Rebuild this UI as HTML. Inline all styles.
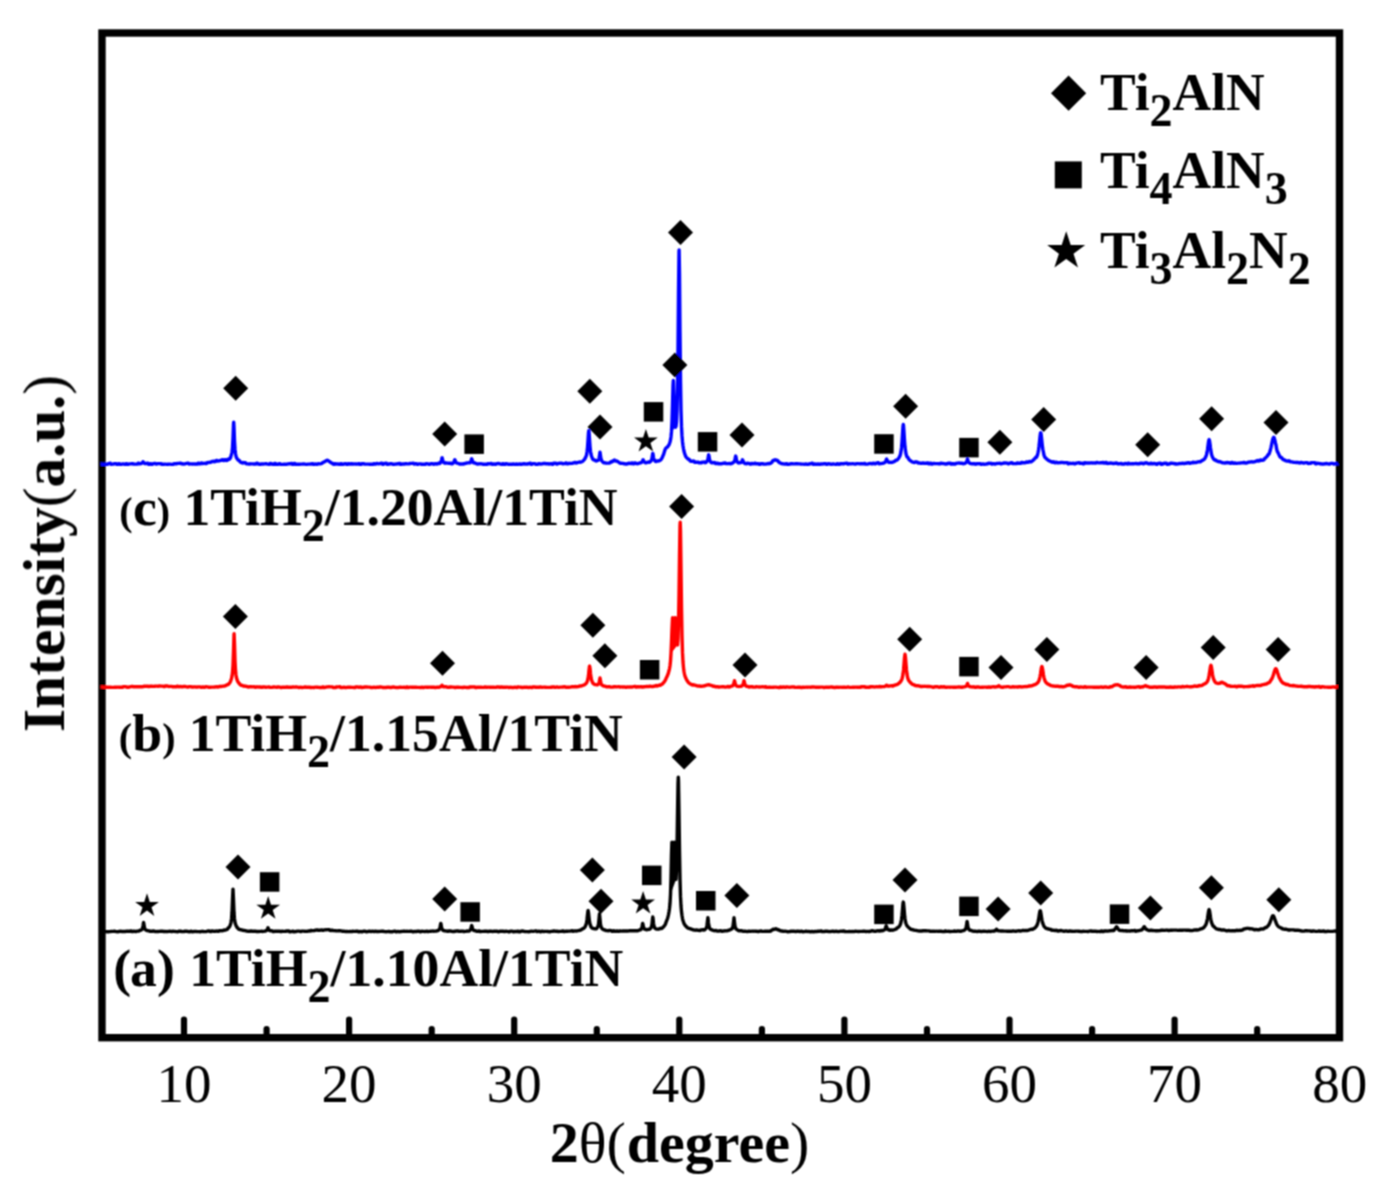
<!DOCTYPE html>
<html><head><meta charset="utf-8"><style>
html,body{margin:0;padding:0;background:#fff;}
svg{display:block;}
text{font-family:"Liberation Serif",serif;}
</style></head><body>
<svg width="1391" height="1200" viewBox="0 0 1391 1200">
<defs><filter id="bl" filterUnits="userSpaceOnUse" x="0" y="0" width="1391" height="1200"><feConvolveMatrix order="3" kernelMatrix="1 2 1 2 4 2 1 2 1" divisor="16" edgeMode="duplicate"/></filter></defs>
<rect width="1391" height="1200" fill="#fff"/>
<g filter="url(#bl)">
<rect x="102.0" y="33.0" width="1237.5" height="1004.7" fill="none" stroke="#000" stroke-width="7.4"/>
<g fill="none" stroke-linejoin="round" stroke-linecap="butt" stroke-width="3.4">
<path d="M671.5,431.4 L672.0,421.6 L672.5,405.1 L673.0,385.7 L673.3,380.5 L673.5,382.5 L674.0,399.4 L674.5,415.5 L675.0,424.5 L675.5,427.3Z" fill="#0000ff"/><path d="M671.0,653.4 L671.5,642.2 L672.0,628.5 L672.5,618.5 L672.6,617.7 L673.0,619.2 L673.5,625.7 L674.0,628.5 L674.5,624.9 L675.0,618.8 L675.3,617.7 L675.5,619.1 L676.0,628.0 L676.5,638.1 L677.0,644.3 L677.5,644.9Z" fill="#ff0000"/><path d="M670.5,894.5 L671.0,878.2 L671.5,854.4 L671.9,842.2 L672.0,842.2 L672.5,855.8 L673.0,866.8 L673.5,862.2 L674.0,846.6 L674.3,842.2 L674.5,845.0 L675.0,863.4 L675.5,877.1 L676.0,879.4Z" fill="#000"/>
<path d="M100.5,464.0 L101.0,464.0 L101.5,464.0 L102.0,464.4 L102.5,464.4 L103.0,464.4 L103.5,464.2 L104.0,464.2 L104.5,464.2 L105.0,464.4 L105.5,464.4 L106.0,464.4 L106.5,464.2 L107.0,464.2 L107.5,464.2 L108.0,463.7 L108.5,463.7 L109.0,463.7 L109.5,463.3 L110.0,463.3 L110.5,463.3 L111.0,464.2 L111.5,464.2 L112.0,464.2 L112.5,464.1 L113.0,464.1 L113.5,464.1 L114.0,463.8 L114.5,463.8 L115.0,463.8 L115.5,463.7 L116.0,463.7 L116.5,463.7 L117.0,464.3 L117.5,464.3 L118.0,464.3 L118.5,463.8 L119.0,463.8 L119.5,463.8 L120.0,464.3 L120.5,464.3 L121.0,464.3 L121.5,464.1 L122.0,464.1 L122.5,464.1 L123.0,463.9 L123.5,463.9 L124.0,463.9 L124.5,464.4 L125.0,464.4 L125.5,464.4 L126.0,463.7 L126.5,463.7 L127.0,463.7 L127.5,464.2 L128.0,464.2 L128.5,464.2 L129.0,463.9 L129.5,463.9 L130.0,463.9 L130.5,463.9 L131.0,463.9 L131.5,463.9 L132.0,463.7 L132.5,463.7 L133.0,463.7 L133.5,464.1 L134.0,464.1 L134.5,464.1 L135.0,464.1 L135.5,464.1 L136.0,464.1 L136.5,464.1 L137.0,464.1 L137.5,464.1 L138.0,463.3 L138.5,463.3 L139.0,463.3 L139.5,463.8 L140.0,463.8 L140.5,463.7 L141.0,463.6 L141.5,463.4 L142.0,463.1 L142.5,462.4 L143.0,461.7 L143.5,462.4 L144.0,463.1 L144.5,463.4 L145.0,463.6 L145.5,463.5 L146.0,463.5 L146.5,463.6 L147.0,463.3 L147.5,463.3 L148.0,463.3 L148.5,464.3 L149.0,464.3 L149.5,464.3 L150.0,463.8 L150.5,463.8 L151.0,463.8 L151.5,464.3 L152.0,464.3 L152.5,464.3 L153.0,463.6 L153.5,463.6 L154.0,463.6 L154.5,463.4 L155.0,463.4 L155.5,463.4 L156.0,464.0 L156.5,464.0 L157.0,464.0 L157.5,463.6 L158.0,463.6 L158.5,463.6 L159.0,463.6 L159.5,463.6 L160.0,463.6 L160.5,463.8 L161.0,463.8 L161.5,463.8 L162.0,464.4 L162.5,464.4 L163.0,464.4 L163.5,464.2 L164.0,464.2 L164.5,464.2 L165.0,464.1 L165.5,464.1 L166.0,464.1 L166.5,464.4 L167.0,464.4 L167.5,464.4 L168.0,464.2 L168.5,464.2 L169.0,464.2 L169.5,464.1 L170.0,464.1 L170.5,464.1 L171.0,464.4 L171.5,464.4 L172.0,464.4 L172.5,464.3 L173.0,464.3 L173.5,464.3 L174.0,463.6 L174.5,463.6 L175.0,463.6 L175.5,463.8 L176.0,463.8 L176.5,463.8 L177.0,463.4 L177.5,463.4 L178.0,463.4 L178.5,463.4 L179.0,463.4 L179.5,463.4 L180.0,463.2 L180.5,463.2 L181.0,463.2 L181.5,463.7 L182.0,463.7 L182.5,463.7 L183.0,464.0 L183.5,464.0 L184.0,464.0 L184.5,463.9 L185.0,463.9 L185.5,463.9 L186.0,463.4 L186.5,463.4 L187.0,463.3 L187.5,463.3 L188.0,463.3 L188.5,463.3 L189.0,464.0 L189.5,464.0 L190.0,463.9 L190.5,463.9 L191.0,463.9 L191.5,463.9 L192.0,464.0 L192.5,464.0 L193.0,464.0 L193.5,463.9 L194.0,463.9 L194.5,463.9 L195.0,464.1 L195.5,464.1 L196.0,464.0 L196.5,464.0 L197.0,464.0 L197.5,464.0 L198.0,463.3 L198.5,463.3 L199.0,463.3 L199.5,463.8 L200.0,463.8 L200.5,463.8 L201.0,463.1 L201.5,463.0 L202.0,463.0 L202.5,463.5 L203.0,463.5 L203.5,463.4 L204.0,463.4 L204.5,463.3 L205.0,463.3 L205.5,463.6 L206.0,463.5 L206.5,463.5 L207.0,462.7 L207.5,462.6 L208.0,462.5 L208.5,462.5 L209.0,462.4 L209.5,462.3 L210.0,462.5 L210.5,462.3 L211.0,462.2 L211.5,461.6 L212.0,461.5 L212.5,461.4 L213.0,461.5 L213.5,461.4 L214.0,461.2 L214.5,461.7 L215.0,461.6 L215.5,461.5 L216.0,460.6 L216.5,460.5 L217.0,460.4 L217.5,461.1 L218.0,461.0 L218.5,460.9 L219.0,460.8 L219.5,460.7 L220.0,460.7 L220.5,460.3 L221.0,460.2 L221.5,460.2 L222.0,459.7 L222.5,459.7 L223.0,459.7 L223.5,460.5 L224.0,460.5 L224.5,460.4 L225.0,459.7 L225.5,459.6 L226.0,459.6 L226.5,460.5 L227.0,460.4 L227.5,460.3 L228.0,459.3 L228.5,459.1 L229.0,458.7 L229.5,459.1 L230.0,458.5 L230.5,457.8 L231.0,455.9 L231.5,454.3 L232.0,452.3 L232.5,447.6 L233.0,438.1 L233.5,424.3 L233.7,422.1 L234.0,426.8 L234.5,440.8 L235.0,449.2 L235.5,453.5 L236.0,456.3 L236.5,457.8 L237.0,458.4 L237.5,459.2 L238.0,459.9 L238.5,460.0 L239.0,460.5 L239.5,460.8 L240.0,461.8 L240.5,462.1 L241.0,462.3 L241.5,462.7 L242.0,462.8 L242.5,463.0 L243.0,462.5 L243.5,462.6 L244.0,462.7 L244.5,462.6 L245.0,462.7 L245.5,462.7 L246.0,463.7 L246.5,463.8 L247.0,463.8 L247.5,463.9 L248.0,463.9 L248.5,464.0 L249.0,464.0 L249.5,464.0 L250.0,464.1 L250.5,463.8 L251.0,463.9 L251.5,463.9 L252.0,463.9 L252.5,463.9 L253.0,463.9 L253.5,464.0 L254.0,464.0 L254.5,464.0 L255.0,464.0 L255.5,464.0 L256.0,464.0 L256.5,463.3 L257.0,463.3 L257.5,463.3 L258.0,464.0 L258.5,464.0 L259.0,464.0 L259.5,464.3 L260.0,464.3 L260.5,464.3 L261.0,463.9 L261.5,463.9 L262.0,463.9 L262.5,464.0 L263.0,464.0 L263.5,464.0 L264.0,463.9 L264.5,463.9 L265.0,463.9 L265.5,463.6 L266.0,463.6 L266.5,463.6 L267.0,464.1 L267.5,464.1 L268.0,464.1 L268.5,464.2 L269.0,464.2 L269.5,464.2 L270.0,463.5 L270.5,463.5 L271.0,463.5 L271.5,464.0 L272.0,464.0 L272.5,464.0 L273.0,464.4 L273.5,464.4 L274.0,464.4 L274.5,463.5 L275.0,463.5 L275.5,463.5 L276.0,464.4 L276.5,464.4 L277.0,464.4 L277.5,464.2 L278.0,464.2 L278.5,464.2 L279.0,463.6 L279.5,463.6 L280.0,463.6 L280.5,464.4 L281.0,464.4 L281.5,464.4 L282.0,464.4 L282.5,464.4 L283.0,464.4 L283.5,464.1 L284.0,464.1 L284.5,464.1 L285.0,464.3 L285.5,464.3 L286.0,464.3 L286.5,464.1 L287.0,464.1 L287.5,464.1 L288.0,463.9 L288.5,463.9 L289.0,463.9 L289.5,463.7 L290.0,463.7 L290.5,463.7 L291.0,463.4 L291.5,463.4 L292.0,463.4 L292.5,464.4 L293.0,464.4 L293.5,464.4 L294.0,463.5 L294.5,463.5 L295.0,463.5 L295.5,464.2 L296.0,464.2 L296.5,464.2 L297.0,464.3 L297.5,464.3 L298.0,464.3 L298.5,464.3 L299.0,464.3 L299.5,464.3 L300.0,464.1 L300.5,464.1 L301.0,464.1 L301.5,464.1 L302.0,464.1 L302.5,464.1 L303.0,464.0 L303.5,464.0 L304.0,464.0 L304.5,464.1 L305.0,464.1 L305.5,464.1 L306.0,464.4 L306.5,464.4 L307.0,464.4 L307.5,464.1 L308.0,464.1 L308.5,464.1 L309.0,464.1 L309.5,464.1 L310.0,464.1 L310.5,464.0 L311.0,464.0 L311.5,464.0 L312.0,463.7 L312.5,463.7 L313.0,463.7 L313.5,464.4 L314.0,464.4 L314.5,464.4 L315.0,464.0 L315.5,464.0 L316.0,464.0 L316.5,464.2 L317.0,464.2 L317.5,464.2 L318.0,463.8 L318.5,463.8 L319.0,463.8 L319.5,463.9 L320.0,463.9 L320.5,463.8 L321.0,463.7 L321.5,463.5 L322.0,463.3 L322.5,462.7 L323.0,462.4 L323.5,462.1 L324.0,462.1 L324.5,461.7 L325.0,461.4 L325.5,461.1 L326.0,460.9 L326.5,460.7 L327.0,460.3 L327.5,460.3 L328.0,460.5 L328.5,460.9 L329.0,461.2 L329.5,461.5 L330.0,462.0 L330.5,462.3 L331.0,462.7 L331.5,463.0 L332.0,463.2 L332.5,463.4 L333.0,464.1 L333.5,464.2 L334.0,464.3 L334.5,463.7 L335.0,463.7 L335.5,463.7 L336.0,464.0 L336.5,464.0 L337.0,464.0 L337.5,464.0 L338.0,464.0 L338.5,464.0 L339.0,464.3 L339.5,464.3 L340.0,464.3 L340.5,463.7 L341.0,463.7 L341.5,463.7 L342.0,464.3 L342.5,464.3 L343.0,464.3 L343.5,464.0 L344.0,464.0 L344.5,464.0 L345.0,463.6 L345.5,463.6 L346.0,463.6 L346.5,464.3 L347.0,464.3 L347.5,464.3 L348.0,463.8 L348.5,463.8 L349.0,463.8 L349.5,464.1 L350.0,464.1 L350.5,464.1 L351.0,463.7 L351.5,463.7 L352.0,463.7 L352.5,464.1 L353.0,464.1 L353.5,464.1 L354.0,463.9 L354.5,463.9 L355.0,463.9 L355.5,464.0 L356.0,464.0 L356.5,464.0 L357.0,464.1 L357.5,464.1 L358.0,464.1 L358.5,463.7 L359.0,463.7 L359.5,463.7 L360.0,464.4 L360.5,464.4 L361.0,464.4 L361.5,463.7 L362.0,463.7 L362.5,463.7 L363.0,463.8 L363.5,463.8 L364.0,463.8 L364.5,464.1 L365.0,464.1 L365.5,464.1 L366.0,464.1 L366.5,464.1 L367.0,464.1 L367.5,464.1 L368.0,464.1 L368.5,464.1 L369.0,464.2 L369.5,464.2 L370.0,464.2 L370.5,464.2 L371.0,464.2 L371.5,464.2 L372.0,464.2 L372.5,464.2 L373.0,464.2 L373.5,463.7 L374.0,463.7 L374.5,463.7 L375.0,464.0 L375.5,464.0 L376.0,464.0 L376.5,463.4 L377.0,463.4 L377.5,463.4 L378.0,463.9 L378.5,463.9 L379.0,463.9 L379.5,463.6 L380.0,463.6 L380.5,463.6 L381.0,463.2 L381.5,463.2 L382.0,463.2 L382.5,464.2 L383.0,464.2 L383.5,464.2 L384.0,463.5 L384.5,463.5 L385.0,463.5 L385.5,463.3 L386.0,463.3 L386.5,463.3 L387.0,464.3 L387.5,464.3 L388.0,464.3 L388.5,464.0 L389.0,464.0 L389.5,464.0 L390.0,463.7 L390.5,463.7 L391.0,463.7 L391.5,463.9 L392.0,463.9 L392.5,463.9 L393.0,464.3 L393.5,464.3 L394.0,464.3 L394.5,464.1 L395.0,464.1 L395.5,464.1 L396.0,464.0 L396.5,464.0 L397.0,464.0 L397.5,463.8 L398.0,463.8 L398.5,463.8 L399.0,463.4 L399.5,463.4 L400.0,463.4 L400.5,464.3 L401.0,464.3 L401.5,464.3 L402.0,464.0 L402.5,464.0 L403.0,464.0 L403.5,464.0 L404.0,464.0 L404.5,464.0 L405.0,463.7 L405.5,463.7 L406.0,463.7 L406.5,463.9 L407.0,463.9 L407.5,463.9 L408.0,463.9 L408.5,463.9 L409.0,463.9 L409.5,463.5 L410.0,463.5 L410.5,463.5 L411.0,463.4 L411.5,463.4 L412.0,463.4 L412.5,463.3 L413.0,463.3 L413.5,463.3 L414.0,464.0 L414.5,464.0 L415.0,464.0 L415.5,463.6 L416.0,463.6 L416.5,463.6 L417.0,464.2 L417.5,464.2 L418.0,464.2 L418.5,463.9 L419.0,463.9 L419.5,463.9 L420.0,463.9 L420.5,463.9 L421.0,463.9 L421.5,464.3 L422.0,464.3 L422.5,464.3 L423.0,464.3 L423.5,464.3 L424.0,464.3 L424.5,464.3 L425.0,464.3 L425.5,464.3 L426.0,463.6 L426.5,463.6 L427.0,463.6 L427.5,463.9 L428.0,463.9 L428.5,463.9 L429.0,464.2 L429.5,464.2 L430.0,464.2 L430.5,463.8 L431.0,463.8 L431.5,463.8 L432.0,463.8 L432.5,463.8 L433.0,463.8 L433.5,464.2 L434.0,464.2 L434.5,464.1 L435.0,463.7 L435.5,463.6 L436.0,463.6 L436.5,464.0 L437.0,464.0 L437.5,463.9 L438.0,463.3 L438.5,463.2 L439.0,463.1 L439.5,463.5 L440.0,463.2 L440.5,462.5 L441.0,461.8 L441.5,460.2 L442.0,457.8 L442.1,457.7 L442.5,459.2 L443.0,461.3 L443.5,462.3 L444.0,462.7 L444.5,463.0 L445.0,463.2 L445.5,462.8 L446.0,462.9 L446.5,463.0 L447.0,463.1 L447.5,463.1 L448.0,463.2 L448.5,463.2 L449.0,463.2 L449.5,463.2 L450.0,463.3 L450.5,463.3 L451.0,463.3 L451.5,463.9 L452.0,463.8 L452.5,463.7 L453.0,463.0 L453.5,462.7 L454.0,461.9 L454.5,460.3 L454.8,459.7 L455.0,460.0 L455.5,461.7 L456.0,462.6 L456.5,463.0 L457.0,463.0 L457.5,463.2 L458.0,463.3 L458.5,463.4 L459.0,463.9 L459.5,464.0 L460.0,464.0 L460.5,464.0 L461.0,464.0 L461.5,464.0 L462.0,464.1 L462.5,464.1 L463.0,464.1 L463.5,463.7 L464.0,463.7 L464.5,463.7 L465.0,463.4 L465.5,463.3 L466.0,463.3 L466.5,463.0 L467.0,463.0 L467.5,462.9 L468.0,462.9 L468.5,462.8 L469.0,462.7 L469.5,462.5 L470.0,462.8 L470.5,462.3 L471.0,461.1 L471.5,459.1 L471.7,458.7 L472.0,459.5 L472.5,461.5 L473.0,462.4 L473.5,462.9 L474.0,462.7 L474.5,462.9 L475.0,463.0 L475.5,463.4 L476.0,463.5 L476.5,463.6 L477.0,464.0 L477.5,464.0 L478.0,464.1 L478.5,463.8 L479.0,463.9 L479.5,463.9 L480.0,463.8 L480.5,463.8 L481.0,463.8 L481.5,463.9 L482.0,463.9 L482.5,463.9 L483.0,464.2 L483.5,464.2 L484.0,464.2 L484.5,464.2 L485.0,464.2 L485.5,464.2 L486.0,464.2 L486.5,464.2 L487.0,464.2 L487.5,463.7 L488.0,463.7 L488.5,463.7 L489.0,463.9 L489.5,463.9 L490.0,463.9 L490.5,463.5 L491.0,463.5 L491.5,463.5 L492.0,464.2 L492.5,464.2 L493.0,464.3 L493.5,464.0 L494.0,464.0 L494.5,464.0 L495.0,464.3 L495.5,464.3 L496.0,464.3 L496.5,463.6 L497.0,463.6 L497.5,463.6 L498.0,463.5 L498.5,463.5 L499.0,463.5 L499.5,463.9 L500.0,463.9 L500.5,463.9 L501.0,464.4 L501.5,464.4 L502.0,464.4 L502.5,463.8 L503.0,463.8 L503.5,463.8 L504.0,464.4 L504.5,464.4 L505.0,464.4 L505.5,463.8 L506.0,463.8 L506.5,463.8 L507.0,464.0 L507.5,464.0 L508.0,464.0 L508.5,464.4 L509.0,464.4 L509.5,464.4 L510.0,464.2 L510.5,464.2 L511.0,464.2 L511.5,464.3 L512.0,464.3 L512.5,464.3 L513.0,464.0 L513.5,464.0 L514.0,464.0 L514.5,464.4 L515.0,464.4 L515.5,464.4 L516.0,464.0 L516.5,464.0 L517.0,464.0 L517.5,464.4 L518.0,464.4 L518.5,464.4 L519.0,463.9 L519.5,463.9 L520.0,463.9 L520.5,464.3 L521.0,464.3 L521.5,464.3 L522.0,464.0 L522.5,464.0 L523.0,464.0 L523.5,463.7 L524.0,463.7 L524.5,463.7 L525.0,464.0 L525.5,464.0 L526.0,464.0 L526.5,464.1 L527.0,464.1 L527.5,464.1 L528.0,463.7 L528.5,463.7 L529.0,463.7 L529.5,463.3 L530.0,463.3 L530.5,463.3 L531.0,464.3 L531.5,464.3 L532.0,464.3 L532.5,463.6 L533.0,463.6 L533.5,463.6 L534.0,463.6 L534.5,463.6 L535.0,463.6 L535.5,464.2 L536.0,464.2 L536.5,464.2 L537.0,464.2 L537.5,464.2 L538.0,464.2 L538.5,463.6 L539.0,463.6 L539.5,463.6 L540.0,464.0 L540.5,464.0 L541.0,464.0 L541.5,463.9 L542.0,463.9 L542.5,463.9 L543.0,463.5 L543.5,463.5 L544.0,463.5 L544.5,463.5 L545.0,463.5 L545.5,463.5 L546.0,463.8 L546.5,463.8 L547.0,463.8 L547.5,463.7 L548.0,463.7 L548.5,463.7 L549.0,464.0 L549.5,464.0 L550.0,464.0 L550.5,463.6 L551.0,463.6 L551.5,463.6 L552.0,464.3 L552.5,464.3 L553.0,464.3 L553.5,463.3 L554.0,463.3 L554.5,463.3 L555.0,463.3 L555.5,463.3 L556.0,463.3 L556.5,464.0 L557.0,464.0 L557.5,464.0 L558.0,463.4 L558.5,463.4 L559.0,463.4 L559.5,463.2 L560.0,463.2 L560.5,463.2 L561.0,463.1 L561.5,463.1 L562.0,463.1 L562.5,463.8 L563.0,463.7 L563.5,463.7 L564.0,463.6 L564.5,463.6 L565.0,463.6 L565.5,463.0 L566.0,463.0 L566.5,463.0 L567.0,463.7 L567.5,463.7 L568.0,463.7 L568.5,463.4 L569.0,463.3 L569.5,463.3 L570.0,463.5 L570.5,463.4 L571.0,463.4 L571.5,463.4 L572.0,463.3 L572.5,463.3 L573.0,463.0 L573.5,462.9 L574.0,462.9 L574.5,462.5 L575.0,462.4 L575.5,462.4 L576.0,463.0 L576.5,462.9 L577.0,462.8 L577.5,462.5 L578.0,462.4 L578.5,462.3 L579.0,462.2 L579.5,462.1 L580.0,461.9 L580.5,462.2 L581.0,462.0 L581.5,461.8 L582.0,461.7 L582.5,461.4 L583.0,461.1 L583.5,460.4 L584.0,459.9 L584.5,459.3 L585.0,458.5 L585.5,457.6 L586.0,456.4 L586.5,455.0 L587.0,452.0 L587.5,447.6 L588.0,440.6 L588.5,432.7 L588.8,430.7 L589.0,431.6 L589.5,438.9 L590.0,446.3 L590.5,451.2 L591.0,454.2 L591.5,456.0 L592.0,457.3 L592.5,458.7 L593.0,459.4 L593.5,459.9 L594.0,459.7 L594.5,460.0 L595.0,460.3 L595.5,460.8 L596.0,460.9 L596.5,461.0 L597.0,460.6 L597.5,460.4 L598.0,460.4 L598.5,459.8 L599.0,458.6 L599.5,455.6 L600.0,452.3 L600.5,455.7 L601.0,458.9 L601.5,460.4 L602.0,461.1 L602.5,461.6 L603.0,462.3 L603.5,462.6 L604.0,462.8 L604.5,462.7 L605.0,462.9 L605.5,463.0 L606.0,463.1 L606.5,463.1 L607.0,463.2 L607.5,463.1 L608.0,463.1 L608.5,463.1 L609.0,463.1 L609.5,463.0 L610.0,462.9 L610.5,462.0 L611.0,461.8 L611.5,461.5 L612.0,461.9 L612.5,461.6 L613.0,461.3 L613.5,460.5 L614.0,460.3 L614.5,460.1 L615.0,460.9 L615.5,460.9 L616.0,461.1 L616.5,460.9 L617.0,461.1 L617.5,461.4 L618.0,461.8 L618.5,462.1 L619.0,462.4 L619.5,462.9 L620.0,463.2 L620.5,463.3 L621.0,463.1 L621.5,463.2 L622.0,463.3 L622.5,463.4 L623.0,463.4 L623.5,463.5 L624.0,463.8 L624.5,463.8 L625.0,463.8 L625.5,464.0 L626.0,464.0 L626.5,464.0 L627.0,463.7 L627.5,463.7 L628.0,463.7 L628.5,463.1 L629.0,463.1 L629.5,463.1 L630.0,463.5 L630.5,463.5 L631.0,463.5 L631.5,463.0 L632.0,463.0 L632.5,463.0 L633.0,463.7 L633.5,463.7 L634.0,463.7 L634.5,463.0 L635.0,462.9 L635.5,462.9 L636.0,463.5 L636.5,463.5 L637.0,463.4 L637.5,463.7 L638.0,463.6 L638.5,463.6 L639.0,463.1 L639.5,463.0 L640.0,463.0 L640.5,462.8 L641.0,462.6 L641.5,462.4 L642.0,462.0 L642.5,461.1 L643.0,459.8 L643.1,459.7 L643.5,460.5 L644.0,461.6 L644.5,462.1 L645.0,462.3 L645.5,462.8 L646.0,462.8 L646.5,462.5 L647.0,462.5 L647.5,462.4 L648.0,462.1 L648.5,462.0 L649.0,461.9 L649.5,462.2 L650.0,461.9 L650.5,461.6 L651.0,460.8 L651.5,460.0 L652.0,458.3 L652.5,454.8 L652.8,453.4 L653.0,454.0 L653.5,457.6 L654.0,459.5 L654.5,460.3 L655.0,460.8 L655.5,461.4 L656.0,461.5 L656.5,461.5 L657.0,460.9 L657.5,460.9 L658.0,460.8 L658.5,461.0 L659.0,460.9 L659.5,460.6 L660.0,460.4 L660.5,460.1 L661.0,459.6 L661.5,458.7 L662.0,458.0 L662.5,457.0 L663.0,455.4 L663.5,454.7 L664.0,453.1 L664.5,451.4 L665.0,449.9 L665.5,448.7 L666.0,448.0 L666.5,447.6 L667.0,447.3 L667.5,447.0 L668.0,446.2 L668.5,445.5 L669.0,444.8 L669.5,443.6 L670.0,442.0 L670.5,439.9 L671.0,436.7 L671.5,431.4 L672.0,421.6 L672.5,405.1 L673.0,385.7 L673.3,380.5 L673.5,382.5 L674.0,399.4 L674.5,415.5 L675.0,424.5 L675.5,427.3 L676.0,426.3 L676.5,421.9 L677.0,410.8 L677.5,388.5 L678.0,349.5 L678.5,293.8 L679.0,251.4 L679.1,250.0 L679.5,273.1 L680.0,331.4 L680.5,379.7 L681.0,409.7 L681.5,426.4 L682.0,435.9 L682.5,441.7 L683.0,445.7 L683.5,448.7 L684.0,451.3 L684.5,453.1 L685.0,454.5 L685.5,455.9 L686.0,456.8 L686.5,457.6 L687.0,457.9 L687.5,458.5 L688.0,459.0 L688.5,459.0 L689.0,459.4 L689.5,459.7 L690.0,460.8 L690.5,461.0 L691.0,461.3 L691.5,461.1 L692.0,461.2 L692.5,461.4 L693.0,461.0 L693.5,461.1 L694.0,461.2 L694.5,462.1 L695.0,462.3 L695.5,462.3 L696.0,462.2 L696.5,462.3 L697.0,462.4 L697.5,462.2 L698.0,462.3 L698.5,462.3 L699.0,462.8 L699.5,462.8 L700.0,462.9 L700.5,462.7 L701.0,462.7 L701.5,462.8 L702.0,462.2 L702.5,462.1 L703.0,462.1 L703.5,462.1 L704.0,462.1 L704.5,462.0 L705.0,462.7 L705.5,462.6 L706.0,462.4 L706.5,461.7 L707.0,461.4 L707.5,460.6 L708.0,458.8 L708.5,455.4 L708.7,454.8 L709.0,456.1 L709.5,459.3 L710.0,460.9 L710.5,461.7 L711.0,462.4 L711.5,462.7 L712.0,462.9 L712.5,462.5 L713.0,462.6 L713.5,462.7 L714.0,462.5 L714.5,462.6 L715.0,462.7 L715.5,463.5 L716.0,463.6 L716.5,463.6 L717.0,463.2 L717.5,463.2 L718.0,463.2 L718.5,463.7 L719.0,463.7 L719.5,463.8 L720.0,463.7 L720.5,463.8 L721.0,463.8 L721.5,463.6 L722.0,463.6 L722.5,463.6 L723.0,463.3 L723.5,463.3 L724.0,463.3 L724.5,463.0 L725.0,463.0 L725.5,463.0 L726.0,463.6 L726.5,463.6 L727.0,463.6 L727.5,463.7 L728.0,463.6 L728.5,463.6 L729.0,463.5 L729.5,463.5 L730.0,463.4 L730.5,463.7 L731.0,463.7 L731.5,463.6 L732.0,463.2 L732.5,463.0 L733.0,462.8 L733.5,462.1 L734.0,462.0 L734.5,461.3 L735.0,459.6 L735.5,456.6 L735.7,456.0 L736.0,457.1 L736.5,460.0 L737.0,461.4 L737.5,462.0 L738.0,462.7 L738.5,462.9 L739.0,463.0 L739.5,462.6 L740.0,462.6 L740.5,462.7 L741.0,462.5 L741.5,462.0 L742.0,460.9 L742.5,459.7 L743.0,461.0 L743.5,462.2 L744.0,462.7 L744.5,463.0 L745.0,463.6 L745.5,463.6 L746.0,463.7 L746.5,463.8 L747.0,463.3 L747.5,463.3 L748.0,463.3 L748.5,463.4 L749.0,463.5 L749.5,463.5 L750.0,464.0 L750.5,464.0 L751.0,464.1 L751.5,463.5 L752.0,463.5 L752.5,463.5 L753.0,463.7 L753.5,463.7 L754.0,463.7 L754.5,463.3 L755.0,463.3 L755.5,463.3 L756.0,463.8 L756.5,463.8 L757.0,463.8 L757.5,463.6 L758.0,463.6 L758.5,463.6 L759.0,464.3 L759.5,464.3 L760.0,464.3 L760.5,463.8 L761.0,463.8 L761.5,463.8 L762.0,463.7 L762.5,463.7 L763.0,463.7 L763.5,464.1 L764.0,464.1 L764.5,464.1 L765.0,464.1 L765.5,464.1 L766.0,464.0 L766.5,463.9 L767.0,463.9 L767.5,463.9 L768.0,463.5 L768.5,463.5 L769.0,463.4 L769.5,463.7 L770.0,463.5 L770.5,463.3 L771.0,462.9 L771.5,462.5 L772.0,462.2 L772.5,461.1 L773.0,460.7 L773.5,460.3 L774.0,460.3 L774.5,460.0 L775.0,459.8 L775.5,460.1 L776.0,460.1 L776.5,460.3 L777.0,460.2 L777.5,460.5 L778.0,460.9 L778.5,461.8 L779.0,462.2 L779.5,462.6 L780.0,462.8 L780.5,463.1 L781.0,463.4 L781.5,463.6 L782.0,463.7 L782.5,463.9 L783.0,463.8 L783.5,463.9 L784.0,463.9 L784.5,464.1 L785.0,464.1 L785.5,464.1 L786.0,463.8 L786.5,463.8 L787.0,463.8 L787.5,464.3 L788.0,464.3 L788.5,464.3 L789.0,464.1 L789.5,464.1 L790.0,464.1 L790.5,463.8 L791.0,463.8 L791.5,463.8 L792.0,463.8 L792.5,463.8 L793.0,463.8 L793.5,463.9 L794.0,463.9 L794.5,463.9 L795.0,463.8 L795.5,463.8 L796.0,463.8 L796.5,463.7 L797.0,463.7 L797.5,463.7 L798.0,463.9 L798.5,463.9 L799.0,463.9 L799.5,463.9 L800.0,463.9 L800.5,463.9 L801.0,464.1 L801.5,464.1 L802.0,464.1 L802.5,464.1 L803.0,464.1 L803.5,464.1 L804.0,464.2 L804.5,464.2 L805.0,464.2 L805.5,464.0 L806.0,464.0 L806.5,464.0 L807.0,464.4 L807.5,464.4 L808.0,464.4 L808.5,464.0 L809.0,464.0 L809.5,464.0 L810.0,463.7 L810.5,463.7 L811.0,463.7 L811.5,463.3 L812.0,463.3 L812.5,463.3 L813.0,464.3 L813.5,464.3 L814.0,464.3 L814.5,463.9 L815.0,463.9 L815.5,463.9 L816.0,464.2 L816.5,464.2 L817.0,464.2 L817.5,463.9 L818.0,463.9 L818.5,463.9 L819.0,464.3 L819.5,464.3 L820.0,464.3 L820.5,463.9 L821.0,463.9 L821.5,463.9 L822.0,464.0 L822.5,464.0 L823.0,464.0 L823.5,463.8 L824.0,463.8 L824.5,463.8 L825.0,463.7 L825.5,463.7 L826.0,463.7 L826.5,464.2 L827.0,464.2 L827.5,464.2 L828.0,463.8 L828.5,463.8 L829.0,463.8 L829.5,464.0 L830.0,464.0 L830.5,464.0 L831.0,464.2 L831.5,464.2 L832.0,464.2 L832.5,464.0 L833.0,464.0 L833.5,464.0 L834.0,464.1 L834.5,464.1 L835.0,464.1 L835.5,464.4 L836.0,464.4 L836.5,464.4 L837.0,463.8 L837.5,463.8 L838.0,463.8 L838.5,464.2 L839.0,464.2 L839.5,464.2 L840.0,463.7 L840.5,463.7 L841.0,463.7 L841.5,463.8 L842.0,463.8 L842.5,463.8 L843.0,463.7 L843.5,463.7 L844.0,463.7 L844.5,463.4 L845.0,463.4 L845.5,463.4 L846.0,463.3 L846.5,463.3 L847.0,463.3 L847.5,464.1 L848.0,464.1 L848.5,464.1 L849.0,463.8 L849.5,463.8 L850.0,463.8 L850.5,463.9 L851.0,463.9 L851.5,463.9 L852.0,463.6 L852.5,463.6 L853.0,463.6 L853.5,463.9 L854.0,463.9 L854.5,463.9 L855.0,464.0 L855.5,464.0 L856.0,464.0 L856.5,463.6 L857.0,463.6 L857.5,463.6 L858.0,463.6 L858.5,463.6 L859.0,463.6 L859.5,463.9 L860.0,463.9 L860.5,463.9 L861.0,463.7 L861.5,463.7 L862.0,463.7 L862.5,463.9 L863.0,463.9 L863.5,463.9 L864.0,463.5 L864.5,463.5 L865.0,463.5 L865.5,464.1 L866.0,464.1 L866.5,464.1 L867.0,464.1 L867.5,464.1 L868.0,464.1 L868.5,463.6 L869.0,463.6 L869.5,463.6 L870.0,463.5 L870.5,463.5 L871.0,463.5 L871.5,463.8 L872.0,463.8 L872.5,463.8 L873.0,463.3 L873.5,463.3 L874.0,463.3 L874.5,463.7 L875.0,463.7 L875.5,463.7 L876.0,463.2 L876.5,463.1 L877.0,463.1 L877.5,462.8 L878.0,462.8 L878.5,462.8 L879.0,463.8 L879.5,463.7 L880.0,463.7 L880.5,463.6 L881.0,463.6 L881.5,463.5 L882.0,463.4 L882.5,463.3 L883.0,463.3 L883.5,463.0 L884.0,462.9 L884.5,462.7 L885.0,462.3 L885.5,461.8 L886.0,460.7 L886.5,459.1 L886.6,459.0 L887.0,459.9 L887.5,461.3 L888.0,461.8 L888.5,462.1 L889.0,462.5 L889.5,462.1 L890.0,462.1 L890.5,462.1 L891.0,462.5 L891.5,462.4 L892.0,462.4 L892.5,462.2 L893.0,462.0 L893.5,461.9 L894.0,461.5 L894.5,461.3 L895.0,461.1 L895.5,460.5 L896.0,460.2 L896.5,459.9 L897.0,460.1 L897.5,459.6 L898.0,459.1 L898.5,458.4 L899.0,457.6 L899.5,456.7 L900.0,455.8 L900.5,454.1 L901.0,451.7 L901.5,447.7 L902.0,442.1 L902.5,434.1 L903.0,426.3 L903.3,424.5 L903.5,425.3 L904.0,432.4 L904.5,440.7 L905.0,446.8 L905.5,450.6 L906.0,453.7 L906.5,455.5 L907.0,456.8 L907.5,456.9 L908.0,457.7 L908.5,458.4 L909.0,459.6 L909.5,460.0 L910.0,460.4 L910.5,460.8 L911.0,461.1 L911.5,461.4 L912.0,461.8 L912.5,462.0 L913.0,462.2 L913.5,462.3 L914.0,462.4 L914.5,462.6 L915.0,461.9 L915.5,462.0 L916.0,462.1 L916.5,462.0 L917.0,462.1 L917.5,462.2 L918.0,462.9 L918.5,463.0 L919.0,463.0 L919.5,463.0 L920.0,463.1 L920.5,463.1 L921.0,463.3 L921.5,463.3 L922.0,463.3 L922.5,463.0 L923.0,463.0 L923.5,463.0 L924.0,463.3 L924.5,463.4 L925.0,463.4 L925.5,463.2 L926.0,463.2 L926.5,463.3 L927.0,462.9 L927.5,462.9 L928.0,463.0 L928.5,463.8 L929.0,463.8 L929.5,463.8 L930.0,463.3 L930.5,463.3 L931.0,463.3 L931.5,464.0 L932.0,464.0 L932.5,464.0 L933.0,463.4 L933.5,463.4 L934.0,463.4 L934.5,463.6 L935.0,463.6 L935.5,463.6 L936.0,463.6 L936.5,463.6 L937.0,463.6 L937.5,463.6 L938.0,463.7 L938.5,463.7 L939.0,463.8 L939.5,463.8 L940.0,463.9 L940.5,463.3 L941.0,463.3 L941.5,463.3 L942.0,463.5 L942.5,463.5 L943.0,463.5 L943.5,463.6 L944.0,463.6 L944.5,463.6 L945.0,464.1 L945.5,464.1 L946.0,464.1 L946.5,463.7 L947.0,463.7 L947.5,463.7 L948.0,463.2 L948.5,463.2 L949.0,463.2 L949.5,463.2 L950.0,463.2 L950.5,463.2 L951.0,464.1 L951.5,464.1 L952.0,464.1 L952.5,463.7 L953.0,463.7 L953.5,463.7 L954.0,464.1 L954.5,464.1 L955.0,464.1 L955.5,463.5 L956.0,463.5 L956.5,463.5 L957.0,463.1 L957.5,463.1 L958.0,463.1 L958.5,463.1 L959.0,463.0 L959.5,463.0 L960.0,463.2 L960.5,463.2 L961.0,463.2 L961.5,463.2 L962.0,463.1 L962.5,463.1 L963.0,463.7 L963.5,463.7 L964.0,463.6 L964.5,463.5 L965.0,463.3 L965.5,463.0 L966.0,462.6 L966.5,462.0 L967.0,460.6 L967.5,459.0 L968.0,460.6 L968.5,462.0 L969.0,462.6 L969.5,463.0 L970.0,463.4 L970.5,463.5 L971.0,463.6 L971.5,463.6 L972.0,463.8 L972.5,463.9 L973.0,463.9 L973.5,463.7 L974.0,463.7 L974.5,463.7 L975.0,464.1 L975.5,464.1 L976.0,464.2 L976.5,463.6 L977.0,463.6 L977.5,463.6 L978.0,463.7 L978.5,463.7 L979.0,463.7 L979.5,463.6 L980.0,463.6 L980.5,463.7 L981.0,464.2 L981.5,464.2 L982.0,464.2 L982.5,464.0 L983.0,464.0 L983.5,464.0 L984.0,464.2 L984.5,464.2 L985.0,464.2 L985.5,464.1 L986.0,464.1 L986.5,464.1 L987.0,463.8 L987.5,463.8 L988.0,463.8 L988.5,463.1 L989.0,463.1 L989.5,463.1 L990.0,463.4 L990.5,463.4 L991.0,463.3 L991.5,464.0 L992.0,464.0 L992.5,464.0 L993.0,463.6 L993.5,463.6 L994.0,463.6 L994.5,464.0 L995.0,464.0 L995.5,464.0 L996.0,463.6 L996.5,463.5 L997.0,463.5 L997.5,463.4 L998.0,463.4 L998.5,463.4 L999.0,463.3 L999.5,463.3 L1000.0,463.3 L1000.5,463.7 L1001.0,463.7 L1001.5,463.7 L1002.0,463.4 L1002.5,463.4 L1003.0,463.4 L1003.5,463.0 L1004.0,463.0 L1004.5,463.0 L1005.0,463.0 L1005.5,463.0 L1006.0,463.0 L1006.5,463.1 L1007.0,463.1 L1007.5,463.1 L1008.0,463.8 L1008.5,463.8 L1009.0,463.7 L1009.5,463.1 L1010.0,463.1 L1010.5,463.1 L1011.0,462.8 L1011.5,462.8 L1012.0,462.8 L1012.5,463.5 L1013.0,463.5 L1013.5,463.5 L1014.0,463.6 L1014.5,463.6 L1015.0,463.6 L1015.5,463.6 L1016.0,463.5 L1016.5,463.5 L1017.0,463.0 L1017.5,463.0 L1018.0,463.0 L1018.5,463.3 L1019.0,463.3 L1019.5,463.2 L1020.0,463.3 L1020.5,463.3 L1021.0,463.2 L1021.5,462.5 L1022.0,462.4 L1022.5,462.4 L1023.0,462.8 L1023.5,462.7 L1024.0,462.7 L1024.5,462.8 L1025.0,462.8 L1025.5,462.7 L1026.0,462.1 L1026.5,462.0 L1027.0,461.9 L1027.5,462.4 L1028.0,462.3 L1028.5,462.2 L1029.0,461.6 L1029.5,461.5 L1030.0,461.4 L1030.5,461.9 L1031.0,461.8 L1031.5,461.6 L1032.0,461.1 L1032.5,460.8 L1033.0,460.5 L1033.5,459.7 L1034.0,459.4 L1034.5,459.0 L1035.0,458.2 L1035.5,457.7 L1036.0,457.0 L1036.5,457.2 L1037.0,456.1 L1037.5,454.8 L1038.0,452.6 L1038.5,450.0 L1039.0,446.3 L1039.5,441.7 L1040.0,436.6 L1040.5,433.1 L1040.7,432.7 L1041.0,433.5 L1041.5,437.6 L1042.0,442.7 L1042.5,447.1 L1043.0,450.1 L1043.5,452.5 L1044.0,455.1 L1044.5,456.4 L1045.0,457.4 L1045.5,457.7 L1046.0,458.4 L1046.5,458.9 L1047.0,459.3 L1047.5,459.6 L1048.0,460.0 L1048.5,460.5 L1049.0,460.7 L1049.5,461.0 L1050.0,461.2 L1050.5,461.4 L1051.0,461.6 L1051.5,462.0 L1052.0,462.1 L1052.5,462.2 L1053.0,461.7 L1053.5,461.8 L1054.0,461.9 L1054.5,462.7 L1055.0,462.8 L1055.5,462.9 L1056.0,462.1 L1056.5,462.2 L1057.0,462.3 L1057.5,462.8 L1058.0,462.9 L1058.5,462.9 L1059.0,462.6 L1059.5,462.6 L1060.0,462.7 L1060.5,462.4 L1061.0,462.4 L1061.5,462.4 L1062.0,462.5 L1062.5,462.5 L1063.0,462.5 L1063.5,462.7 L1064.0,462.8 L1064.5,462.8 L1065.0,462.6 L1065.5,462.6 L1066.0,462.6 L1066.5,462.6 L1067.0,462.6 L1067.5,462.6 L1068.0,463.8 L1068.5,463.8 L1069.0,463.8 L1069.5,463.1 L1070.0,463.1 L1070.5,463.1 L1071.0,463.6 L1071.5,463.6 L1072.0,463.6 L1072.5,463.1 L1073.0,463.1 L1073.5,463.1 L1074.0,463.7 L1074.5,463.7 L1075.0,463.7 L1075.5,463.2 L1076.0,463.2 L1076.5,463.2 L1077.0,462.9 L1077.5,462.9 L1078.0,462.8 L1078.5,462.7 L1079.0,462.7 L1079.5,462.7 L1080.0,463.3 L1080.5,463.2 L1081.0,463.2 L1081.5,463.2 L1082.0,463.2 L1082.5,463.2 L1083.0,463.7 L1083.5,463.7 L1084.0,463.7 L1084.5,462.8 L1085.0,462.8 L1085.5,462.8 L1086.0,463.1 L1086.5,463.1 L1087.0,463.0 L1087.5,463.0 L1088.0,463.0 L1088.5,463.0 L1089.0,463.0 L1089.5,463.0 L1090.0,463.0 L1090.5,462.9 L1091.0,462.9 L1091.5,462.8 L1092.0,463.0 L1092.5,463.0 L1093.0,463.0 L1093.5,462.9 L1094.0,462.9 L1094.5,462.9 L1095.0,463.1 L1095.5,463.1 L1096.0,463.1 L1096.5,462.4 L1097.0,462.4 L1097.5,462.4 L1098.0,462.9 L1098.5,462.9 L1099.0,462.9 L1099.5,462.9 L1100.0,462.9 L1100.5,462.9 L1101.0,462.7 L1101.5,462.7 L1102.0,462.8 L1102.5,462.5 L1103.0,462.5 L1103.5,462.5 L1104.0,463.0 L1104.5,463.0 L1105.0,463.0 L1105.5,462.5 L1106.0,462.5 L1106.5,462.5 L1107.0,463.4 L1107.5,463.4 L1108.0,463.5 L1108.5,463.3 L1109.0,463.3 L1109.5,463.4 L1110.0,463.0 L1110.5,463.0 L1111.0,463.0 L1111.5,463.2 L1112.0,463.3 L1112.5,463.3 L1113.0,463.6 L1113.5,463.6 L1114.0,463.6 L1114.5,463.3 L1115.0,463.3 L1115.5,463.3 L1116.0,463.0 L1116.5,463.0 L1117.0,463.1 L1117.5,463.7 L1118.0,463.7 L1118.5,463.7 L1119.0,463.7 L1119.5,463.7 L1120.0,463.7 L1120.5,463.5 L1121.0,463.5 L1121.5,463.5 L1122.0,464.0 L1122.5,464.0 L1123.0,464.0 L1123.5,464.0 L1124.0,464.0 L1124.5,464.0 L1125.0,463.4 L1125.5,463.4 L1126.0,463.4 L1126.5,463.9 L1127.0,463.9 L1127.5,464.0 L1128.0,463.3 L1128.5,463.3 L1129.0,463.3 L1129.5,463.9 L1130.0,463.9 L1130.5,463.9 L1131.0,463.8 L1131.5,463.8 L1132.0,463.8 L1132.5,463.8 L1133.0,463.8 L1133.5,463.8 L1134.0,463.6 L1134.5,463.6 L1135.0,463.6 L1135.5,463.5 L1136.0,463.5 L1136.5,463.5 L1137.0,463.8 L1137.5,463.8 L1138.0,463.8 L1138.5,463.8 L1139.0,463.8 L1139.5,463.8 L1140.0,463.3 L1140.5,463.3 L1141.0,463.3 L1141.5,463.1 L1142.0,463.1 L1142.5,463.1 L1143.0,463.8 L1143.5,463.8 L1144.0,463.4 L1144.5,463.3 L1145.0,463.1 L1145.5,462.8 L1146.0,462.7 L1146.5,462.8 L1147.0,463.1 L1147.5,463.3 L1148.0,463.4 L1148.5,463.9 L1149.0,463.7 L1149.5,463.8 L1150.0,463.8 L1150.5,463.2 L1151.0,463.2 L1151.5,463.2 L1152.0,463.7 L1152.5,463.7 L1153.0,463.7 L1153.5,463.4 L1154.0,463.4 L1154.5,463.5 L1155.0,463.7 L1155.5,463.7 L1156.0,463.7 L1156.5,464.2 L1157.0,464.2 L1157.5,464.2 L1158.0,463.4 L1158.5,463.4 L1159.0,463.4 L1159.5,463.2 L1160.0,463.2 L1160.5,463.2 L1161.0,464.2 L1161.5,464.2 L1162.0,464.2 L1162.5,463.7 L1163.0,463.7 L1163.5,463.7 L1164.0,463.2 L1164.5,463.2 L1165.0,463.2 L1165.5,463.2 L1166.0,463.2 L1166.5,463.2 L1167.0,464.2 L1167.5,464.2 L1168.0,464.2 L1168.5,464.0 L1169.0,464.0 L1169.5,464.0 L1170.0,463.3 L1170.5,463.2 L1171.0,463.2 L1171.5,463.3 L1172.0,463.3 L1172.5,463.3 L1173.0,463.4 L1173.5,463.4 L1174.0,463.4 L1174.5,463.8 L1175.0,463.8 L1175.5,463.7 L1176.0,464.1 L1176.5,464.1 L1177.0,464.0 L1177.5,463.9 L1178.0,463.9 L1178.5,463.9 L1179.0,463.5 L1179.5,463.5 L1180.0,463.5 L1180.5,463.6 L1181.0,463.6 L1181.5,463.6 L1182.0,463.3 L1182.5,463.3 L1183.0,463.3 L1183.5,463.6 L1184.0,463.6 L1184.5,463.6 L1185.0,463.3 L1185.5,463.3 L1186.0,463.3 L1186.5,463.0 L1187.0,463.0 L1187.5,463.0 L1188.0,462.7 L1188.5,462.6 L1189.0,462.6 L1189.5,463.3 L1190.0,463.3 L1190.5,463.2 L1191.0,462.9 L1191.5,462.8 L1192.0,462.8 L1192.5,462.3 L1193.0,462.2 L1193.5,462.2 L1194.0,462.7 L1194.5,462.6 L1195.0,462.5 L1195.5,462.6 L1196.0,462.5 L1196.5,462.5 L1197.0,462.1 L1197.5,462.0 L1198.0,461.9 L1198.5,461.8 L1199.0,461.7 L1199.5,461.6 L1200.0,461.8 L1200.5,461.6 L1201.0,461.4 L1201.5,460.8 L1202.0,460.6 L1202.5,460.3 L1203.0,460.1 L1203.5,459.8 L1204.0,459.3 L1204.5,458.9 L1205.0,458.2 L1205.5,457.4 L1206.0,456.2 L1206.5,454.7 L1207.0,452.5 L1207.5,449.5 L1208.0,445.7 L1208.5,441.9 L1209.0,439.7 L1209.1,439.6 L1209.5,440.7 L1210.0,444.1 L1210.5,448.0 L1211.0,451.3 L1211.5,454.2 L1212.0,455.8 L1212.5,457.1 L1213.0,458.0 L1213.5,458.9 L1214.0,459.5 L1214.5,459.9 L1215.0,459.6 L1215.5,459.9 L1216.0,460.2 L1216.5,460.8 L1217.0,461.0 L1217.5,461.2 L1218.0,461.5 L1218.5,461.7 L1219.0,461.8 L1219.5,461.5 L1220.0,461.7 L1220.5,461.8 L1221.0,462.2 L1221.5,462.3 L1222.0,462.4 L1222.5,462.8 L1223.0,462.8 L1223.5,462.9 L1224.0,462.9 L1224.5,463.0 L1225.0,463.0 L1225.5,462.7 L1226.0,462.7 L1226.5,462.8 L1227.0,462.5 L1227.5,462.5 L1228.0,462.6 L1228.5,462.8 L1229.0,462.8 L1229.5,462.8 L1230.0,463.2 L1230.5,463.2 L1231.0,463.2 L1231.5,462.5 L1232.0,462.5 L1232.5,462.5 L1233.0,463.2 L1233.5,463.3 L1234.0,463.3 L1234.5,463.0 L1235.0,463.0 L1235.5,463.0 L1236.0,463.4 L1236.5,463.4 L1237.0,463.4 L1237.5,463.1 L1238.0,463.1 L1238.5,463.1 L1239.0,463.1 L1239.5,463.1 L1240.0,463.1 L1240.5,462.9 L1241.0,462.9 L1241.5,462.8 L1242.0,462.9 L1242.5,462.9 L1243.0,462.8 L1243.5,462.4 L1244.0,462.4 L1244.5,462.4 L1245.0,463.1 L1245.5,463.1 L1246.0,463.1 L1246.5,462.9 L1247.0,462.9 L1247.5,462.9 L1248.0,462.1 L1248.5,462.1 L1249.0,462.1 L1249.5,462.1 L1250.0,462.0 L1250.5,462.0 L1251.0,461.9 L1251.5,461.8 L1252.0,461.8 L1252.5,462.0 L1253.0,462.0 L1253.5,461.9 L1254.0,461.8 L1254.5,461.7 L1255.0,461.7 L1255.5,461.3 L1256.0,461.2 L1256.5,461.1 L1257.0,460.7 L1257.5,460.6 L1258.0,460.5 L1258.5,461.0 L1259.0,460.9 L1259.5,460.8 L1260.0,460.2 L1260.5,460.1 L1261.0,459.9 L1261.5,460.4 L1262.0,460.3 L1262.5,460.1 L1263.0,460.2 L1263.5,460.0 L1264.0,459.7 L1264.5,458.6 L1265.0,458.3 L1265.5,458.0 L1266.0,457.4 L1266.5,456.9 L1267.0,456.4 L1267.5,455.7 L1268.0,455.0 L1268.5,454.1 L1269.0,454.0 L1269.5,452.8 L1270.0,451.3 L1270.5,449.3 L1271.0,447.3 L1271.5,445.0 L1272.0,442.7 L1272.5,440.3 L1273.0,438.4 L1273.5,437.4 L1273.7,437.3 L1274.0,437.5 L1274.5,438.8 L1275.0,440.8 L1275.5,443.2 L1276.0,445.0 L1276.5,448.3 L1277.0,450.2 L1277.5,451.9 L1278.0,452.5 L1278.5,453.7 L1279.0,454.7 L1279.5,456.0 L1280.0,456.7 L1280.5,457.2 L1281.0,457.2 L1281.5,457.6 L1282.0,458.0 L1282.5,459.1 L1283.0,459.4 L1283.5,459.7 L1284.0,459.7 L1284.5,460.0 L1285.0,460.2 L1285.5,460.7 L1286.0,460.8 L1286.5,461.0 L1287.0,461.0 L1287.5,461.1 L1288.0,461.2 L1288.5,460.8 L1289.0,460.9 L1289.5,461.0 L1290.0,461.7 L1290.5,461.8 L1291.0,461.9 L1291.5,461.9 L1292.0,461.9 L1292.5,462.0 L1293.0,462.2 L1293.5,462.3 L1294.0,462.4 L1294.5,462.3 L1295.0,462.4 L1295.5,462.4 L1296.0,462.5 L1296.5,462.5 L1297.0,462.6 L1297.5,462.4 L1298.0,462.5 L1298.5,462.5 L1299.0,462.9 L1299.5,462.9 L1300.0,463.0 L1300.5,462.4 L1301.0,462.4 L1301.5,462.5 L1302.0,462.7 L1302.5,462.7 L1303.0,462.8 L1303.5,463.1 L1304.0,463.1 L1304.5,463.1 L1305.0,462.6 L1305.5,462.6 L1306.0,462.6 L1306.5,462.6 L1307.0,462.7 L1307.5,462.7 L1308.0,463.4 L1308.5,463.5 L1309.0,463.5 L1309.5,463.3 L1310.0,463.3 L1310.5,463.3 L1311.0,462.7 L1311.5,462.7 L1312.0,462.7 L1312.5,462.6 L1313.0,462.6 L1313.5,462.6 L1314.0,462.7 L1314.5,462.8 L1315.0,462.8 L1315.5,463.8 L1316.0,463.8 L1316.5,463.8 L1317.0,463.3 L1317.5,463.3 L1318.0,463.3 L1318.5,463.4 L1319.0,463.4 L1319.5,463.4 L1320.0,463.8 L1320.5,463.8 L1321.0,463.8 L1321.5,464.0 L1322.0,464.0 L1322.5,464.0 L1323.0,464.0 L1323.5,464.0 L1324.0,464.0 L1324.5,463.8 L1325.0,463.8 L1325.5,463.8 L1326.0,463.5 L1326.5,463.5 L1327.0,463.5 L1327.5,463.9 L1328.0,463.9 L1328.5,463.9 L1329.0,464.0 L1329.5,464.0 L1330.0,464.0 L1330.5,463.4 L1331.0,463.4 L1331.5,463.4 L1332.0,463.3 L1332.5,463.4 L1333.0,463.4 L1333.5,464.0 L1334.0,464.0 L1334.5,464.0 L1335.0,463.6 L1335.5,463.6 L1336.0,463.6 L1336.5,463.8 L1337.0,463.8 L1337.5,463.8 L1338.0,463.4" stroke="#0000ff"/>
<path d="M100.5,687.0 L101.0,687.0 L101.5,687.0 L102.0,686.9 L102.5,686.9 L103.0,686.9 L103.5,687.2 L104.0,687.2 L104.5,687.2 L105.0,687.0 L105.5,687.0 L106.0,687.0 L106.5,687.3 L107.0,687.3 L107.5,687.3 L108.0,687.2 L108.5,687.2 L109.0,687.2 L109.5,687.2 L110.0,687.2 L110.5,687.2 L111.0,687.4 L111.5,687.4 L112.0,687.4 L112.5,687.4 L113.0,687.4 L113.5,687.4 L114.0,687.3 L114.5,687.3 L115.0,687.3 L115.5,687.3 L116.0,687.3 L116.5,687.3 L117.0,687.1 L117.5,687.1 L118.0,687.1 L118.5,687.2 L119.0,687.2 L119.5,687.2 L120.0,687.2 L120.5,687.2 L121.0,687.2 L121.5,687.2 L122.0,687.2 L122.5,687.2 L123.0,686.7 L123.5,686.7 L124.0,686.7 L124.5,686.6 L125.0,686.6 L125.5,686.6 L126.0,687.0 L126.5,687.0 L127.0,687.0 L127.5,687.3 L128.0,687.2 L128.5,687.2 L129.0,687.0 L129.5,687.0 L130.0,686.9 L130.5,686.6 L131.0,686.6 L131.5,686.5 L132.0,686.4 L132.5,686.4 L133.0,686.4 L133.5,686.9 L134.0,686.8 L134.5,686.8 L135.0,686.8 L135.5,686.8 L136.0,686.8 L136.5,686.8 L137.0,686.8 L137.5,686.8 L138.0,686.6 L138.5,686.6 L139.0,686.6 L139.5,686.8 L140.0,686.8 L140.5,686.8 L141.0,686.8 L141.5,686.8 L142.0,686.8 L142.5,686.6 L143.0,686.6 L143.5,686.6 L144.0,686.2 L144.5,686.2 L145.0,686.2 L145.5,686.4 L146.0,686.4 L146.5,686.4 L147.0,686.2 L147.5,686.2 L148.0,686.2 L148.5,686.6 L149.0,686.5 L149.5,686.5 L150.0,686.1 L150.5,686.1 L151.0,686.1 L151.5,686.3 L152.0,686.3 L152.5,686.3 L153.0,686.4 L153.5,686.4 L154.0,686.3 L154.5,686.2 L155.0,686.2 L155.5,686.2 L156.0,686.1 L156.5,686.1 L157.0,686.1 L157.5,686.2 L158.0,686.2 L158.5,686.2 L159.0,686.0 L159.5,686.0 L160.0,686.0 L160.5,686.1 L161.0,686.1 L161.5,686.1 L162.0,686.1 L162.5,686.1 L163.0,686.1 L163.5,686.5 L164.0,686.6 L164.5,686.6 L165.0,686.0 L165.5,686.0 L166.0,686.0 L166.5,685.9 L167.0,685.9 L167.5,685.9 L168.0,686.4 L168.5,686.4 L169.0,686.5 L169.5,686.4 L170.0,686.4 L170.5,686.4 L171.0,686.4 L171.5,686.4 L172.0,686.4 L172.5,686.7 L173.0,686.7 L173.5,686.7 L174.0,686.7 L174.5,686.7 L175.0,686.7 L175.5,686.8 L176.0,686.8 L176.5,686.8 L177.0,686.3 L177.5,686.3 L178.0,686.3 L178.5,686.7 L179.0,686.7 L179.5,686.7 L180.0,686.5 L180.5,686.5 L181.0,686.5 L181.5,686.9 L182.0,686.9 L182.5,686.9 L183.0,686.5 L183.5,686.6 L184.0,686.6 L184.5,686.4 L185.0,686.4 L185.5,686.4 L186.0,686.9 L186.5,686.9 L187.0,686.9 L187.5,687.0 L188.0,687.0 L188.5,687.0 L189.0,686.6 L189.5,686.6 L190.0,686.6 L190.5,686.7 L191.0,686.7 L191.5,686.8 L192.0,687.1 L192.5,687.1 L193.0,687.1 L193.5,686.9 L194.0,686.9 L194.5,686.9 L195.0,686.9 L195.5,687.0 L196.0,687.0 L196.5,687.1 L197.0,687.1 L197.5,687.1 L198.0,686.9 L198.5,686.9 L199.0,686.9 L199.5,686.9 L200.0,686.9 L200.5,686.9 L201.0,687.2 L201.5,687.2 L202.0,687.2 L202.5,686.9 L203.0,686.9 L203.5,686.9 L204.0,687.2 L204.5,687.2 L205.0,687.2 L205.5,686.8 L206.0,686.8 L206.5,686.8 L207.0,686.9 L207.5,686.9 L208.0,686.9 L208.5,687.2 L209.0,687.2 L209.5,687.2 L210.0,687.2 L210.5,687.2 L211.0,687.2 L211.5,687.1 L212.0,687.1 L212.5,687.1 L213.0,687.1 L213.5,687.1 L214.0,687.1 L214.5,687.0 L215.0,687.0 L215.5,687.0 L216.0,686.8 L216.5,686.7 L217.0,686.7 L217.5,687.0 L218.0,687.0 L218.5,686.9 L219.0,686.5 L219.5,686.5 L220.0,686.4 L220.5,686.6 L221.0,686.5 L221.5,686.5 L222.0,686.3 L222.5,686.2 L223.0,686.1 L223.5,686.2 L224.0,686.1 L224.5,686.0 L225.0,685.8 L225.5,685.6 L226.0,685.5 L226.5,685.0 L227.0,684.8 L227.5,684.5 L228.0,684.6 L228.5,684.2 L229.0,683.7 L229.5,683.1 L230.0,682.3 L230.5,681.4 L231.0,680.0 L231.5,678.5 L232.0,676.2 L232.5,672.5 L233.0,665.4 L233.5,651.2 L234.0,634.5 L234.1,633.7 L234.5,643.5 L235.0,660.8 L235.5,670.3 L236.0,675.0 L236.5,677.7 L237.0,679.6 L237.5,680.9 L238.0,681.9 L238.5,682.7 L239.0,683.3 L239.5,683.8 L240.0,684.5 L240.5,684.9 L241.0,685.2 L241.5,685.1 L242.0,685.3 L242.5,685.5 L243.0,685.9 L243.5,686.0 L244.0,686.2 L244.5,686.0 L245.0,686.1 L245.5,686.2 L246.0,686.4 L246.5,686.4 L247.0,686.5 L247.5,686.9 L248.0,686.9 L248.5,687.0 L249.0,686.7 L249.5,686.8 L250.0,686.8 L250.5,686.6 L251.0,686.7 L251.5,686.7 L252.0,686.9 L252.5,686.9 L253.0,686.9 L253.5,686.8 L254.0,686.8 L254.5,686.8 L255.0,687.2 L255.5,687.2 L256.0,687.2 L256.5,686.8 L257.0,686.9 L257.5,686.9 L258.0,687.0 L258.5,687.0 L259.0,687.0 L259.5,686.9 L260.0,686.9 L260.5,687.0 L261.0,687.3 L261.5,687.3 L262.0,687.3 L262.5,686.9 L263.0,686.9 L263.5,686.9 L264.0,687.0 L264.5,687.0 L265.0,687.0 L265.5,687.2 L266.0,687.2 L266.5,687.2 L267.0,687.1 L267.5,687.1 L268.0,687.1 L268.5,687.0 L269.0,687.0 L269.5,687.0 L270.0,687.4 L270.5,687.4 L271.0,687.4 L271.5,687.4 L272.0,687.4 L272.5,687.4 L273.0,686.9 L273.5,686.9 L274.0,686.9 L274.5,687.1 L275.0,687.1 L275.5,687.1 L276.0,687.2 L276.5,687.2 L277.0,687.2 L277.5,686.9 L278.0,686.9 L278.5,686.9 L279.0,687.1 L279.5,687.1 L280.0,687.1 L280.5,687.5 L281.0,687.5 L281.5,687.5 L282.0,687.2 L282.5,687.2 L283.0,687.2 L283.5,687.2 L284.0,687.2 L284.5,687.2 L285.0,687.2 L285.5,687.2 L286.0,687.2 L286.5,686.9 L287.0,686.9 L287.5,686.9 L288.0,687.3 L288.5,687.3 L289.0,687.3 L289.5,687.3 L290.0,687.3 L290.5,687.3 L291.0,687.2 L291.5,687.2 L292.0,687.2 L292.5,687.0 L293.0,687.0 L293.5,687.0 L294.0,687.1 L294.5,687.1 L295.0,687.1 L295.5,687.0 L296.0,687.0 L296.5,687.0 L297.0,687.1 L297.5,687.1 L298.0,687.1 L298.5,687.5 L299.0,687.5 L299.5,687.5 L300.0,687.3 L300.5,687.3 L301.0,687.3 L301.5,687.5 L302.0,687.5 L302.5,687.5 L303.0,687.4 L303.5,687.4 L304.0,687.4 L304.5,687.0 L305.0,687.0 L305.5,687.0 L306.0,687.3 L306.5,687.3 L307.0,687.3 L307.5,687.2 L308.0,687.2 L308.5,687.2 L309.0,687.2 L309.5,687.2 L310.0,687.2 L310.5,687.6 L311.0,687.6 L311.5,687.6 L312.0,687.4 L312.5,687.4 L313.0,687.4 L313.5,687.5 L314.0,687.5 L314.5,687.5 L315.0,687.1 L315.5,687.1 L316.0,687.1 L316.5,687.2 L317.0,687.2 L317.5,687.2 L318.0,687.4 L318.5,687.4 L319.0,687.4 L319.5,687.5 L320.0,687.5 L320.5,687.5 L321.0,687.5 L321.5,687.5 L322.0,687.5 L322.5,687.0 L323.0,687.0 L323.5,687.0 L324.0,687.5 L324.5,687.5 L325.0,687.5 L325.5,687.1 L326.0,687.1 L326.5,687.1 L327.0,686.9 L327.5,686.9 L328.0,686.9 L328.5,686.8 L329.0,686.8 L329.5,686.8 L330.0,686.9 L330.5,686.9 L331.0,686.9 L331.5,686.9 L332.0,686.9 L332.5,686.9 L333.0,687.5 L333.5,687.5 L334.0,687.5 L334.5,687.6 L335.0,687.6 L335.5,687.6 L336.0,687.0 L336.5,687.0 L337.0,687.0 L337.5,686.9 L338.0,686.9 L338.5,686.9 L339.0,686.8 L339.5,686.8 L340.0,686.8 L340.5,687.5 L341.0,687.5 L341.5,687.5 L342.0,687.5 L342.5,687.5 L343.0,687.5 L343.5,687.3 L344.0,687.3 L344.5,687.3 L345.0,687.6 L345.5,687.6 L346.0,687.6 L346.5,687.4 L347.0,687.4 L347.5,687.4 L348.0,687.2 L348.5,687.2 L349.0,687.2 L349.5,687.2 L350.0,687.2 L350.5,687.2 L351.0,687.4 L351.5,687.4 L352.0,687.4 L352.5,687.4 L353.0,687.4 L353.5,687.4 L354.0,687.6 L354.5,687.6 L355.0,687.6 L355.5,687.0 L356.0,687.0 L356.5,687.0 L357.0,686.9 L357.5,686.9 L358.0,686.9 L358.5,687.2 L359.0,687.2 L359.5,687.2 L360.0,687.0 L360.5,687.0 L361.0,687.0 L361.5,687.5 L362.0,687.5 L362.5,687.5 L363.0,687.3 L363.5,687.3 L364.0,687.3 L364.5,687.0 L365.0,687.0 L365.5,687.0 L366.0,687.0 L366.5,687.0 L367.0,687.0 L367.5,687.1 L368.0,687.1 L368.5,687.1 L369.0,687.1 L369.5,687.1 L370.0,687.1 L370.5,687.5 L371.0,687.5 L371.5,687.5 L372.0,687.5 L372.5,687.5 L373.0,687.5 L373.5,687.3 L374.0,687.3 L374.5,687.3 L375.0,687.5 L375.5,687.5 L376.0,687.5 L376.5,687.3 L377.0,687.3 L377.5,687.3 L378.0,687.2 L378.5,687.2 L379.0,687.2 L379.5,686.9 L380.0,686.9 L380.5,686.9 L381.0,687.1 L381.5,687.1 L382.0,687.1 L382.5,687.5 L383.0,687.5 L383.5,687.5 L384.0,687.5 L384.5,687.5 L385.0,687.5 L385.5,687.5 L386.0,687.5 L386.5,687.5 L387.0,687.1 L387.5,687.1 L388.0,687.1 L388.5,687.3 L389.0,687.3 L389.5,687.3 L390.0,687.5 L390.5,687.5 L391.0,687.5 L391.5,687.2 L392.0,687.2 L392.5,687.2 L393.0,687.0 L393.5,687.0 L394.0,687.0 L394.5,687.4 L395.0,687.4 L395.5,687.4 L396.0,687.5 L396.5,687.5 L397.0,687.5 L397.5,687.6 L398.0,687.6 L398.5,687.6 L399.0,687.1 L399.5,687.1 L400.0,687.1 L400.5,687.3 L401.0,687.3 L401.5,687.3 L402.0,687.4 L402.5,687.4 L403.0,687.4 L403.5,687.1 L404.0,687.1 L404.5,687.1 L405.0,687.6 L405.5,687.6 L406.0,687.6 L406.5,687.0 L407.0,687.0 L407.5,687.0 L408.0,687.5 L408.5,687.5 L409.0,687.5 L409.5,687.1 L410.0,687.1 L410.5,687.1 L411.0,687.2 L411.5,687.2 L412.0,687.2 L412.5,687.3 L413.0,687.3 L413.5,687.3 L414.0,687.3 L414.5,687.3 L415.0,687.3 L415.5,687.1 L416.0,687.1 L416.5,687.1 L417.0,687.4 L417.5,687.4 L418.0,687.4 L418.5,687.4 L419.0,687.4 L419.5,687.4 L420.0,687.5 L420.5,687.5 L421.0,687.5 L421.5,687.2 L422.0,687.2 L422.5,687.2 L423.0,687.6 L423.5,687.6 L424.0,687.6 L424.5,687.1 L425.0,687.1 L425.5,687.1 L426.0,687.2 L426.5,687.2 L427.0,687.2 L427.5,687.3 L428.0,687.3 L428.5,687.3 L429.0,687.1 L429.5,687.1 L430.0,687.1 L430.5,687.2 L431.0,687.2 L431.5,687.2 L432.0,687.3 L432.5,687.3 L433.0,687.3 L433.5,687.2 L434.0,687.2 L434.5,687.2 L435.0,687.5 L435.5,687.5 L436.0,687.5 L436.5,687.3 L437.0,687.3 L437.5,687.3 L438.0,687.3 L438.5,687.3 L439.0,687.3 L439.5,687.0 L440.0,686.9 L440.5,686.8 L441.0,686.5 L441.5,685.9 L442.0,685.2 L442.5,685.9 L443.0,686.5 L443.5,686.8 L444.0,686.9 L444.5,686.7 L445.0,686.8 L445.5,686.7 L446.0,686.7 L446.5,686.8 L447.0,687.2 L447.5,687.3 L448.0,687.3 L448.5,687.3 L449.0,687.3 L449.5,687.3 L450.0,686.9 L450.5,686.9 L451.0,686.9 L451.5,687.1 L452.0,687.1 L452.5,687.1 L453.0,687.1 L453.5,687.1 L454.0,687.1 L454.5,687.5 L455.0,687.5 L455.5,687.5 L456.0,687.2 L456.5,687.2 L457.0,687.2 L457.5,687.2 L458.0,687.2 L458.5,687.2 L459.0,687.4 L459.5,687.4 L460.0,687.4 L460.5,687.4 L461.0,687.4 L461.5,687.4 L462.0,687.5 L462.5,687.5 L463.0,687.5 L463.5,687.2 L464.0,687.2 L464.5,687.2 L465.0,687.4 L465.5,687.4 L466.0,687.4 L466.5,687.5 L467.0,687.5 L467.5,687.5 L468.0,687.5 L468.5,687.5 L469.0,687.5 L469.5,687.0 L470.0,687.0 L470.5,687.0 L471.0,687.0 L471.5,687.0 L472.0,687.0 L472.5,686.9 L473.0,686.9 L473.5,686.9 L474.0,687.0 L474.5,687.0 L475.0,687.0 L475.5,687.5 L476.0,687.5 L476.5,687.5 L477.0,687.2 L477.5,687.2 L478.0,687.2 L478.5,687.4 L479.0,687.4 L479.5,687.4 L480.0,687.2 L480.5,687.2 L481.0,687.2 L481.5,687.4 L482.0,687.4 L482.5,687.4 L483.0,687.4 L483.5,687.4 L484.0,687.4 L484.5,687.0 L485.0,687.0 L485.5,687.0 L486.0,687.3 L486.5,687.3 L487.0,687.3 L487.5,687.1 L488.0,687.1 L488.5,687.1 L489.0,687.2 L489.5,687.2 L490.0,687.2 L490.5,687.3 L491.0,687.3 L491.5,687.3 L492.0,687.1 L492.5,687.1 L493.0,687.1 L493.5,687.3 L494.0,687.3 L494.5,687.3 L495.0,687.4 L495.5,687.4 L496.0,687.4 L496.5,687.0 L497.0,687.0 L497.5,687.0 L498.0,686.9 L498.5,686.9 L499.0,686.9 L499.5,687.3 L500.0,687.3 L500.5,687.3 L501.0,686.9 L501.5,686.9 L502.0,686.9 L502.5,687.2 L503.0,687.2 L503.5,687.2 L504.0,687.2 L504.5,687.2 L505.0,687.2 L505.5,687.2 L506.0,687.2 L506.5,687.2 L507.0,687.1 L507.5,687.1 L508.0,687.1 L508.5,687.5 L509.0,687.5 L509.5,687.5 L510.0,687.3 L510.5,687.3 L511.0,687.3 L511.5,687.5 L512.0,687.5 L512.5,687.5 L513.0,687.5 L513.5,687.5 L514.0,687.5 L514.5,687.1 L515.0,687.1 L515.5,687.1 L516.0,687.5 L516.5,687.5 L517.0,687.5 L517.5,687.0 L518.0,687.0 L518.5,687.0 L519.0,687.1 L519.5,687.1 L520.0,687.1 L520.5,687.2 L521.0,687.2 L521.5,687.2 L522.0,687.5 L522.5,687.5 L523.0,687.5 L523.5,687.3 L524.0,687.3 L524.5,687.3 L525.0,687.3 L525.5,687.3 L526.0,687.3 L526.5,687.1 L527.0,687.1 L527.5,687.1 L528.0,687.5 L528.5,687.5 L529.0,687.5 L529.5,687.3 L530.0,687.3 L530.5,687.3 L531.0,687.5 L531.5,687.5 L532.0,687.5 L532.5,687.0 L533.0,687.0 L533.5,686.9 L534.0,687.0 L534.5,687.0 L535.0,687.0 L535.5,687.3 L536.0,687.3 L536.5,687.3 L537.0,687.2 L537.5,687.2 L538.0,687.2 L538.5,687.3 L539.0,687.3 L539.5,687.3 L540.0,686.9 L540.5,686.9 L541.0,686.9 L541.5,687.4 L542.0,687.4 L542.5,687.4 L543.0,687.1 L543.5,687.1 L544.0,687.1 L544.5,687.2 L545.0,687.2 L545.5,687.2 L546.0,687.4 L546.5,687.4 L547.0,687.4 L547.5,687.4 L548.0,687.4 L548.5,687.4 L549.0,687.4 L549.5,687.4 L550.0,687.4 L550.5,687.3 L551.0,687.3 L551.5,687.3 L552.0,686.9 L552.5,686.9 L553.0,686.9 L553.5,687.0 L554.0,687.0 L554.5,687.0 L555.0,687.4 L555.5,687.4 L556.0,687.4 L556.5,686.9 L557.0,686.9 L557.5,686.9 L558.0,687.4 L558.5,687.4 L559.0,687.4 L559.5,687.1 L560.0,687.1 L560.5,687.1 L561.0,687.1 L561.5,687.1 L562.0,687.1 L562.5,687.0 L563.0,687.0 L563.5,687.0 L564.0,686.8 L564.5,686.8 L565.0,686.8 L565.5,687.2 L566.0,687.2 L566.5,687.2 L567.0,687.2 L567.5,687.2 L568.0,687.2 L568.5,687.2 L569.0,687.2 L569.5,687.2 L570.0,687.1 L570.5,687.1 L571.0,687.1 L571.5,686.6 L572.0,686.6 L572.5,686.6 L573.0,686.8 L573.5,686.8 L574.0,686.8 L574.5,686.6 L575.0,686.6 L575.5,686.5 L576.0,686.8 L576.5,686.8 L577.0,686.7 L577.5,686.7 L578.0,686.6 L578.5,686.6 L579.0,686.2 L579.5,686.1 L580.0,686.0 L580.5,686.1 L581.0,686.0 L581.5,685.9 L582.0,685.6 L582.5,685.5 L583.0,685.3 L583.5,685.2 L584.0,685.0 L584.5,684.7 L585.0,684.4 L585.5,684.0 L586.0,683.5 L586.5,682.9 L587.0,682.0 L587.5,680.7 L588.0,678.7 L588.5,675.3 L589.0,670.2 L589.5,666.2 L589.6,666.1 L590.0,668.2 L590.5,673.4 L591.0,677.4 L591.5,680.0 L592.0,681.2 L592.5,682.5 L593.0,683.2 L593.5,683.7 L594.0,684.1 L594.5,684.4 L595.0,684.6 L595.5,684.6 L596.0,684.7 L596.5,684.8 L597.0,684.9 L597.5,684.8 L598.0,684.5 L598.5,684.1 L599.0,683.0 L599.5,680.6 L600.0,678.0 L600.5,680.8 L601.0,683.3 L601.5,684.5 L602.0,685.1 L602.5,685.4 L603.0,685.7 L603.5,685.9 L604.0,686.1 L604.5,686.1 L605.0,686.2 L605.5,686.3 L606.0,686.7 L606.5,686.8 L607.0,686.8 L607.5,686.8 L608.0,686.9 L608.5,686.9 L609.0,686.7 L609.5,686.7 L610.0,686.8 L610.5,687.1 L611.0,687.1 L611.5,687.1 L612.0,687.1 L612.5,687.1 L613.0,687.1 L613.5,686.8 L614.0,686.8 L614.5,686.8 L615.0,686.8 L615.5,686.8 L616.0,686.8 L616.5,686.9 L617.0,686.9 L617.5,686.9 L618.0,686.6 L618.5,686.6 L619.0,686.6 L619.5,687.0 L620.0,687.0 L620.5,687.0 L621.0,686.9 L621.5,686.9 L622.0,686.9 L622.5,687.0 L623.0,687.0 L623.5,687.0 L624.0,686.9 L624.5,686.9 L625.0,686.9 L625.5,687.2 L626.0,687.2 L626.5,687.2 L627.0,687.0 L627.5,687.0 L628.0,687.0 L628.5,687.1 L629.0,687.1 L629.5,687.1 L630.0,686.9 L630.5,686.9 L631.0,686.9 L631.5,687.1 L632.0,687.1 L632.5,687.1 L633.0,686.6 L633.5,686.6 L634.0,686.6 L634.5,686.5 L635.0,686.5 L635.5,686.5 L636.0,687.1 L636.5,687.1 L637.0,687.1 L637.5,686.8 L638.0,686.8 L638.5,686.8 L639.0,687.0 L639.5,686.9 L640.0,686.9 L640.5,686.7 L641.0,686.7 L641.5,686.7 L642.0,687.1 L642.5,687.1 L643.0,687.1 L643.5,686.8 L644.0,686.8 L644.5,686.8 L645.0,686.6 L645.5,686.6 L646.0,686.6 L646.5,686.4 L647.0,686.4 L647.5,686.4 L648.0,686.6 L648.5,686.6 L649.0,686.6 L649.5,686.3 L650.0,686.3 L650.5,686.3 L651.0,686.5 L651.5,686.4 L652.0,686.4 L652.5,686.5 L653.0,686.5 L653.5,686.4 L654.0,686.2 L654.5,686.2 L655.0,686.1 L655.5,685.7 L656.0,685.6 L656.5,685.5 L657.0,686.0 L657.5,685.9 L658.0,685.8 L658.5,685.3 L659.0,685.2 L659.5,685.0 L660.0,685.3 L660.5,685.1 L661.0,684.8 L661.5,684.5 L662.0,684.2 L662.5,683.8 L663.0,683.2 L663.5,682.7 L664.0,682.1 L664.5,681.5 L665.0,680.7 L665.5,679.9 L666.0,678.6 L666.5,677.6 L667.0,676.5 L667.5,675.5 L668.0,674.1 L668.5,672.6 L669.0,670.8 L669.5,668.6 L670.0,665.7 L670.5,661.1 L671.0,653.4 L671.5,642.2 L672.0,628.5 L672.5,618.5 L672.6,617.7 L673.0,619.2 L673.5,625.7 L674.0,628.5 L674.5,624.9 L675.0,618.8 L675.3,617.7 L675.5,619.1 L676.0,628.0 L676.5,638.1 L677.0,644.3 L677.5,644.9 L678.0,638.8 L678.5,623.0 L679.0,595.4 L679.5,557.3 L680.0,525.6 L680.2,522.3 L680.5,531.1 L681.0,568.8 L681.5,607.8 L682.0,635.6 L682.5,652.4 L683.0,662.0 L683.5,667.6 L684.0,671.5 L684.5,674.1 L685.0,676.1 L685.5,677.3 L686.0,678.6 L686.5,679.6 L687.0,680.5 L687.5,681.2 L688.0,681.8 L688.5,682.6 L689.0,683.0 L689.5,683.4 L690.0,683.7 L690.5,684.0 L691.0,684.3 L691.5,684.6 L692.0,684.8 L692.5,685.0 L693.0,684.7 L693.5,684.9 L694.0,685.0 L694.5,685.1 L695.0,685.2 L695.5,685.3 L696.0,685.6 L696.5,685.7 L697.0,685.8 L697.5,686.0 L698.0,686.1 L698.5,686.1 L699.0,686.0 L699.5,686.0 L700.0,686.1 L700.5,686.3 L701.0,686.3 L701.5,686.3 L702.0,686.1 L702.5,686.1 L703.0,686.1 L703.5,686.0 L704.0,686.0 L704.5,685.8 L705.0,685.6 L705.5,685.5 L706.0,685.3 L706.5,685.2 L707.0,685.0 L707.5,684.9 L708.0,684.8 L708.5,684.7 L709.0,684.7 L709.5,685.0 L710.0,685.1 L710.5,685.2 L711.0,685.3 L711.5,685.5 L712.0,685.7 L712.5,685.9 L713.0,686.1 L713.5,686.3 L714.0,686.1 L714.5,686.2 L715.0,686.3 L715.5,686.8 L716.0,686.8 L716.5,686.9 L717.0,686.7 L717.5,686.7 L718.0,686.7 L718.5,687.0 L719.0,687.0 L719.5,687.0 L720.0,686.9 L720.5,686.9 L721.0,686.9 L721.5,686.8 L722.0,686.8 L722.5,686.8 L723.0,686.6 L723.5,686.6 L724.0,686.6 L724.5,687.1 L725.0,687.1 L725.5,687.1 L726.0,687.0 L726.5,686.9 L727.0,686.9 L727.5,686.5 L728.0,686.5 L728.5,686.5 L729.0,687.0 L729.5,686.9 L730.0,686.9 L730.5,686.3 L731.0,686.2 L731.5,686.1 L732.0,686.0 L732.5,685.9 L733.0,685.5 L733.5,684.6 L734.0,682.7 L734.5,680.7 L735.0,682.7 L735.5,684.6 L736.0,685.4 L736.5,685.8 L737.0,686.2 L737.5,686.3 L738.0,686.4 L738.5,686.4 L739.0,686.5 L739.5,686.4 L740.0,686.4 L740.5,686.3 L741.0,686.3 L741.5,686.1 L742.0,685.8 L742.5,685.4 L743.0,684.6 L743.5,682.7 L744.0,680.7 L744.5,682.7 L745.0,684.7 L745.5,685.5 L746.0,685.9 L746.5,686.4 L747.0,686.3 L747.5,686.4 L748.0,686.5 L748.5,686.9 L749.0,687.0 L749.5,687.0 L750.0,686.7 L750.5,686.8 L751.0,686.8 L751.5,686.6 L752.0,686.6 L752.5,686.7 L753.0,687.1 L753.5,687.1 L754.0,687.1 L754.5,687.1 L755.0,687.1 L755.5,687.1 L756.0,686.8 L756.5,686.8 L757.0,686.8 L757.5,686.9 L758.0,686.9 L758.5,686.9 L759.0,687.0 L759.5,687.0 L760.0,687.0 L760.5,686.9 L761.0,686.9 L761.5,686.9 L762.0,686.8 L762.5,686.8 L763.0,686.8 L763.5,686.9 L764.0,686.9 L764.5,687.0 L765.0,686.7 L765.5,686.7 L766.0,686.7 L766.5,687.4 L767.0,687.4 L767.5,687.4 L768.0,687.3 L768.5,687.3 L769.0,687.3 L769.5,687.2 L770.0,687.2 L770.5,687.2 L771.0,687.4 L771.5,687.4 L772.0,687.4 L772.5,687.3 L773.0,687.3 L773.5,687.3 L774.0,687.1 L774.5,687.1 L775.0,687.1 L775.5,687.1 L776.0,687.1 L776.5,687.1 L777.0,687.4 L777.5,687.4 L778.0,687.4 L778.5,687.5 L779.0,687.5 L779.5,687.5 L780.0,687.0 L780.5,687.0 L781.0,687.0 L781.5,687.3 L782.0,687.3 L782.5,687.3 L783.0,687.0 L783.5,687.0 L784.0,687.0 L784.5,687.2 L785.0,687.2 L785.5,687.2 L786.0,686.9 L786.5,686.9 L787.0,686.9 L787.5,687.1 L788.0,687.1 L788.5,687.1 L789.0,687.2 L789.5,687.2 L790.0,687.2 L790.5,687.1 L791.0,687.1 L791.5,687.1 L792.0,686.9 L792.5,686.9 L793.0,686.9 L793.5,687.0 L794.0,687.0 L794.5,687.0 L795.0,687.4 L795.5,687.4 L796.0,687.4 L796.5,687.4 L797.0,687.4 L797.5,687.4 L798.0,687.2 L798.5,687.2 L799.0,687.2 L799.5,687.2 L800.0,687.2 L800.5,687.2 L801.0,687.5 L801.5,687.5 L802.0,687.5 L802.5,687.2 L803.0,687.2 L803.5,687.2 L804.0,687.4 L804.5,687.4 L805.0,687.4 L805.5,687.1 L806.0,687.1 L806.5,687.1 L807.0,687.2 L807.5,687.2 L808.0,687.2 L808.5,687.1 L809.0,687.1 L809.5,687.1 L810.0,687.2 L810.5,687.2 L811.0,687.2 L811.5,687.0 L812.0,687.0 L812.5,687.0 L813.0,687.0 L813.5,687.0 L814.0,687.0 L814.5,687.1 L815.0,687.1 L815.5,687.1 L816.0,687.3 L816.5,687.3 L817.0,687.3 L817.5,687.2 L818.0,687.2 L818.5,687.2 L819.0,687.2 L819.5,687.2 L820.0,687.2 L820.5,687.1 L821.0,687.1 L821.5,687.1 L822.0,687.1 L822.5,687.1 L823.0,687.1 L823.5,687.5 L824.0,687.5 L824.5,687.5 L825.0,687.3 L825.5,687.3 L826.0,687.3 L826.5,687.3 L827.0,687.3 L827.5,687.3 L828.0,687.3 L828.5,687.3 L829.0,687.3 L829.5,687.1 L830.0,687.1 L830.5,687.1 L831.0,687.0 L831.5,687.0 L832.0,687.0 L832.5,687.3 L833.0,687.3 L833.5,687.3 L834.0,687.5 L834.5,687.5 L835.0,687.5 L835.5,687.2 L836.0,687.2 L836.5,687.2 L837.0,687.2 L837.5,687.2 L838.0,687.2 L838.5,687.4 L839.0,687.4 L839.5,687.4 L840.0,687.1 L840.5,687.1 L841.0,687.1 L841.5,687.4 L842.0,687.4 L842.5,687.4 L843.0,687.2 L843.5,687.2 L844.0,687.2 L844.5,687.3 L845.0,687.3 L845.5,687.3 L846.0,687.4 L846.5,687.4 L847.0,687.4 L847.5,686.9 L848.0,686.9 L848.5,686.9 L849.0,687.4 L849.5,687.4 L850.0,687.4 L850.5,687.4 L851.0,687.4 L851.5,687.4 L852.0,687.3 L852.5,687.3 L853.0,687.3 L853.5,687.3 L854.0,687.3 L854.5,687.3 L855.0,687.1 L855.5,687.1 L856.0,687.1 L856.5,687.2 L857.0,687.2 L857.5,687.2 L858.0,687.3 L858.5,687.3 L859.0,687.3 L859.5,687.3 L860.0,687.3 L860.5,687.3 L861.0,686.8 L861.5,686.8 L862.0,686.8 L862.5,686.7 L863.0,686.7 L863.5,686.6 L864.0,686.8 L864.5,686.8 L865.0,686.8 L865.5,687.3 L866.0,687.2 L866.5,687.2 L867.0,687.3 L867.5,687.3 L868.0,687.3 L868.5,687.3 L869.0,687.3 L869.5,687.3 L870.0,686.8 L870.5,686.8 L871.0,686.8 L871.5,686.7 L872.0,686.7 L872.5,686.7 L873.0,686.9 L873.5,686.9 L874.0,686.9 L874.5,687.0 L875.0,686.9 L875.5,686.9 L876.0,686.8 L876.5,686.8 L877.0,686.8 L877.5,686.9 L878.0,686.8 L878.5,686.8 L879.0,686.6 L879.5,686.5 L880.0,686.5 L880.5,686.8 L881.0,686.7 L881.5,686.7 L882.0,686.7 L882.5,686.6 L883.0,686.6 L883.5,686.6 L884.0,686.6 L884.5,686.5 L885.0,686.3 L885.5,686.2 L886.0,685.8 L886.5,685.2 L886.6,685.2 L887.0,685.5 L887.5,685.9 L888.0,686.1 L888.5,686.2 L889.0,686.1 L889.5,686.0 L890.0,685.9 L890.5,685.9 L891.0,685.8 L891.5,685.7 L892.0,685.6 L892.5,686.1 L893.0,686.0 L893.5,685.9 L894.0,685.4 L894.5,685.2 L895.0,685.1 L895.5,685.0 L896.0,684.8 L896.5,684.6 L897.0,684.5 L897.5,684.3 L898.0,684.0 L898.5,683.6 L899.0,683.2 L899.5,682.7 L900.0,682.3 L900.5,681.7 L901.0,681.0 L901.5,680.1 L902.0,678.8 L902.5,677.0 L903.0,674.1 L903.5,670.0 L904.0,664.2 L904.5,657.6 L905.0,654.2 L905.5,657.6 L906.0,664.2 L906.5,670.0 L907.0,674.1 L907.5,677.0 L908.0,678.9 L908.5,680.2 L909.0,680.8 L909.5,681.5 L910.0,682.1 L910.5,682.7 L911.0,683.1 L911.5,683.5 L912.0,684.0 L912.5,684.3 L913.0,684.5 L913.5,684.6 L914.0,684.8 L914.5,685.0 L915.0,685.4 L915.5,685.6 L916.0,685.7 L916.5,685.7 L917.0,685.8 L917.5,685.9 L918.0,685.7 L918.5,685.8 L919.0,685.9 L919.5,686.2 L920.0,686.3 L920.5,686.3 L921.0,686.6 L921.5,686.6 L922.0,686.6 L922.5,686.3 L923.0,686.4 L923.5,686.4 L924.0,686.3 L924.5,686.3 L925.0,686.4 L925.5,686.3 L926.0,686.4 L926.5,686.4 L927.0,686.5 L927.5,686.5 L928.0,686.6 L928.5,686.4 L929.0,686.4 L929.5,686.4 L930.0,686.6 L930.5,686.6 L931.0,686.6 L931.5,686.9 L932.0,686.9 L932.5,686.9 L933.0,687.2 L933.5,687.2 L934.0,687.2 L934.5,686.8 L935.0,686.8 L935.5,686.8 L936.0,686.7 L936.5,686.7 L937.0,686.7 L937.5,686.9 L938.0,686.9 L938.5,686.9 L939.0,687.2 L939.5,687.2 L940.0,687.2 L940.5,686.8 L941.0,686.8 L941.5,686.8 L942.0,687.1 L942.5,687.1 L943.0,687.1 L943.5,686.8 L944.0,686.8 L944.5,686.8 L945.0,687.2 L945.5,687.2 L946.0,687.2 L946.5,687.2 L947.0,687.2 L947.5,687.2 L948.0,687.1 L948.5,687.1 L949.0,687.1 L949.5,687.2 L950.0,687.2 L950.5,687.2 L951.0,687.1 L951.5,687.1 L952.0,687.1 L952.5,687.2 L953.0,687.2 L953.5,687.2 L954.0,687.3 L954.5,687.3 L955.0,687.3 L955.5,687.2 L956.0,687.2 L956.5,687.2 L957.0,687.1 L957.5,687.1 L958.0,687.1 L958.5,686.9 L959.0,686.9 L959.5,686.9 L960.0,687.1 L960.5,687.1 L961.0,687.1 L961.5,687.3 L962.0,687.2 L962.5,687.2 L963.0,687.0 L963.5,686.9 L964.0,686.9 L964.5,686.8 L965.0,686.7 L965.5,686.5 L966.0,686.2 L966.5,685.7 L967.0,684.6 L967.5,683.4 L968.0,684.6 L968.5,685.7 L969.0,686.2 L969.5,686.5 L970.0,686.7 L970.5,686.7 L971.0,686.8 L971.5,686.9 L972.0,686.9 L972.5,687.0 L973.0,687.0 L973.5,686.8 L974.0,686.9 L974.5,686.9 L975.0,687.3 L975.5,687.3 L976.0,687.3 L976.5,687.0 L977.0,687.0 L977.5,687.0 L978.0,686.9 L978.5,686.9 L979.0,686.9 L979.5,687.4 L980.0,687.4 L980.5,687.4 L981.0,687.3 L981.5,687.3 L982.0,687.3 L982.5,687.2 L983.0,687.2 L983.5,687.2 L984.0,687.1 L984.5,687.1 L985.0,687.1 L985.5,687.1 L986.0,687.1 L986.5,687.1 L987.0,687.3 L987.5,687.3 L988.0,687.3 L988.5,686.9 L989.0,686.9 L989.5,686.9 L990.0,687.2 L990.5,687.2 L991.0,687.2 L991.5,687.0 L992.0,686.9 L992.5,686.9 L993.0,686.8 L993.5,686.8 L994.0,686.8 L994.5,687.0 L995.0,687.0 L995.5,687.0 L996.0,686.8 L996.5,686.7 L997.0,686.8 L997.5,686.7 L998.0,686.4 L998.5,685.9 L998.8,685.7 L999.0,685.8 L999.5,686.4 L1000.0,686.7 L1000.5,686.8 L1001.0,687.1 L1001.5,687.2 L1002.0,687.2 L1002.5,687.2 L1003.0,687.2 L1003.5,686.9 L1004.0,686.9 L1004.5,686.9 L1005.0,686.9 L1005.5,686.9 L1006.0,686.9 L1006.5,686.6 L1007.0,686.6 L1007.5,686.6 L1008.0,686.6 L1008.5,686.6 L1009.0,686.6 L1009.5,687.1 L1010.0,687.1 L1010.5,687.1 L1011.0,687.1 L1011.5,687.1 L1012.0,687.1 L1012.5,686.8 L1013.0,686.8 L1013.5,686.8 L1014.0,687.0 L1014.5,687.0 L1015.0,686.9 L1015.5,686.9 L1016.0,686.9 L1016.5,686.9 L1017.0,687.0 L1017.5,687.0 L1018.0,687.0 L1018.5,686.7 L1019.0,686.7 L1019.5,686.7 L1020.0,686.9 L1020.5,686.8 L1021.0,686.8 L1021.5,687.0 L1022.0,686.9 L1022.5,686.9 L1023.0,686.8 L1023.5,686.8 L1024.0,686.7 L1024.5,686.6 L1025.0,686.6 L1025.5,686.5 L1026.0,686.7 L1026.5,686.6 L1027.0,686.6 L1027.5,686.4 L1028.0,686.3 L1028.5,686.3 L1029.0,686.0 L1029.5,685.9 L1030.0,685.8 L1030.5,686.0 L1031.0,685.9 L1031.5,685.8 L1032.0,685.6 L1032.5,685.5 L1033.0,685.3 L1033.5,685.0 L1034.0,684.8 L1034.5,684.6 L1035.0,684.6 L1035.5,684.4 L1036.0,684.1 L1036.5,683.7 L1037.0,683.3 L1037.5,682.8 L1038.0,682.4 L1038.5,681.6 L1039.0,680.5 L1039.5,678.8 L1040.0,676.6 L1040.5,673.8 L1041.0,670.4 L1041.5,667.4 L1041.9,666.5 L1042.0,666.6 L1042.5,668.5 L1043.0,671.8 L1043.5,675.0 L1044.0,677.6 L1044.5,679.4 L1045.0,680.8 L1045.5,681.7 L1046.0,682.4 L1046.5,683.0 L1047.0,683.4 L1047.5,683.8 L1048.0,684.1 L1048.5,684.3 L1049.0,684.5 L1049.5,684.7 L1050.0,685.2 L1050.5,685.4 L1051.0,685.6 L1051.5,685.7 L1052.0,685.8 L1052.5,686.0 L1053.0,685.9 L1053.5,686.0 L1054.0,686.1 L1054.5,686.2 L1055.0,686.3 L1055.5,686.4 L1056.0,686.2 L1056.5,686.3 L1057.0,686.3 L1057.5,686.2 L1058.0,686.3 L1058.5,686.3 L1059.0,686.6 L1059.5,686.7 L1060.0,686.7 L1060.5,686.5 L1061.0,686.5 L1061.5,686.5 L1062.0,686.8 L1062.5,686.8 L1063.0,686.7 L1063.5,686.8 L1064.0,686.7 L1064.5,686.6 L1065.0,686.3 L1065.5,686.2 L1066.0,686.0 L1066.5,685.6 L1067.0,685.4 L1067.5,685.2 L1068.0,685.4 L1068.5,685.3 L1069.0,685.2 L1069.5,684.8 L1070.0,684.9 L1070.5,685.0 L1071.0,685.3 L1071.5,685.5 L1072.0,685.7 L1072.5,686.1 L1073.0,686.3 L1073.5,686.5 L1074.0,686.5 L1074.5,686.7 L1075.0,686.8 L1075.5,686.6 L1076.0,686.7 L1076.5,686.7 L1077.0,686.9 L1077.5,686.9 L1078.0,687.0 L1078.5,687.2 L1079.0,687.2 L1079.5,687.2 L1080.0,687.0 L1080.5,687.0 L1081.0,687.0 L1081.5,687.1 L1082.0,687.1 L1082.5,687.1 L1083.0,687.2 L1083.5,687.2 L1084.0,687.2 L1084.5,686.8 L1085.0,686.8 L1085.5,686.8 L1086.0,687.2 L1086.5,687.2 L1087.0,687.2 L1087.5,687.1 L1088.0,687.1 L1088.5,687.1 L1089.0,687.1 L1089.5,687.1 L1090.0,687.1 L1090.5,687.1 L1091.0,687.1 L1091.5,687.1 L1092.0,687.1 L1092.5,687.1 L1093.0,687.1 L1093.5,687.3 L1094.0,687.3 L1094.5,687.3 L1095.0,687.3 L1095.5,687.3 L1096.0,687.3 L1096.5,687.3 L1097.0,687.3 L1097.5,687.3 L1098.0,687.3 L1098.5,687.3 L1099.0,687.3 L1099.5,687.1 L1100.0,687.1 L1100.5,687.1 L1101.0,687.0 L1101.5,687.0 L1102.0,687.0 L1102.5,687.4 L1103.0,687.4 L1103.5,687.4 L1104.0,687.0 L1104.5,687.0 L1105.0,687.0 L1105.5,686.9 L1106.0,686.9 L1106.5,686.9 L1107.0,687.4 L1107.5,687.4 L1108.0,687.4 L1108.5,687.3 L1109.0,687.2 L1109.5,687.2 L1110.0,686.7 L1110.5,686.7 L1111.0,686.6 L1111.5,686.9 L1112.0,686.7 L1112.5,686.5 L1113.0,685.9 L1113.5,685.6 L1114.0,685.4 L1114.5,685.3 L1115.0,685.0 L1115.5,684.8 L1116.0,684.9 L1116.5,684.9 L1117.0,684.9 L1117.5,684.7 L1118.0,684.9 L1118.5,685.1 L1119.0,685.1 L1119.5,685.4 L1120.0,685.6 L1120.5,686.3 L1121.0,686.5 L1121.5,686.7 L1122.0,686.8 L1122.5,686.9 L1123.0,687.0 L1123.5,686.9 L1124.0,686.9 L1124.5,687.0 L1125.0,686.8 L1125.5,686.8 L1126.0,686.8 L1126.5,687.3 L1127.0,687.3 L1127.5,687.3 L1128.0,687.3 L1128.5,687.3 L1129.0,687.3 L1129.5,686.9 L1130.0,686.9 L1130.5,686.9 L1131.0,687.2 L1131.5,687.2 L1132.0,687.2 L1132.5,687.1 L1133.0,687.1 L1133.5,687.1 L1134.0,687.3 L1134.5,687.3 L1135.0,687.3 L1135.5,687.1 L1136.0,687.1 L1136.5,687.1 L1137.0,686.9 L1137.5,686.9 L1138.0,686.9 L1138.5,686.7 L1139.0,686.7 L1139.5,686.7 L1140.0,687.3 L1140.5,687.3 L1141.0,687.2 L1141.5,686.8 L1142.0,686.7 L1142.5,686.7 L1143.0,687.0 L1143.5,686.6 L1144.0,686.4 L1144.5,686.1 L1145.0,685.8 L1145.4,685.7 L1145.5,685.7 L1146.0,685.9 L1146.5,686.2 L1147.0,686.5 L1147.5,686.4 L1148.0,686.5 L1148.5,686.6 L1149.0,687.1 L1149.5,687.2 L1150.0,687.2 L1150.5,687.2 L1151.0,687.2 L1151.5,687.3 L1152.0,687.2 L1152.5,687.2 L1153.0,687.2 L1153.5,686.9 L1154.0,687.0 L1154.5,687.0 L1155.0,686.9 L1155.5,686.9 L1156.0,686.9 L1156.5,687.3 L1157.0,687.3 L1157.5,687.3 L1158.0,687.0 L1158.5,687.0 L1159.0,687.0 L1159.5,687.0 L1160.0,687.0 L1160.5,687.0 L1161.0,687.0 L1161.5,687.0 L1162.0,687.0 L1162.5,687.0 L1163.0,687.0 L1163.5,687.0 L1164.0,686.9 L1164.5,686.9 L1165.0,686.9 L1165.5,687.2 L1166.0,687.2 L1166.5,687.2 L1167.0,687.3 L1167.5,687.3 L1168.0,687.3 L1168.5,687.3 L1169.0,687.3 L1169.5,687.3 L1170.0,686.9 L1170.5,686.9 L1171.0,686.9 L1171.5,687.2 L1172.0,687.2 L1172.5,687.2 L1173.0,687.3 L1173.5,687.3 L1174.0,687.3 L1174.5,687.0 L1175.0,687.0 L1175.5,687.0 L1176.0,687.1 L1176.5,687.1 L1177.0,687.1 L1177.5,687.0 L1178.0,686.9 L1178.5,686.9 L1179.0,686.9 L1179.5,686.9 L1180.0,686.9 L1180.5,687.0 L1181.0,687.0 L1181.5,687.0 L1182.0,686.6 L1182.5,686.5 L1183.0,686.5 L1183.5,686.9 L1184.0,686.9 L1184.5,686.9 L1185.0,686.6 L1185.5,686.6 L1186.0,686.6 L1186.5,686.5 L1187.0,686.5 L1187.5,686.5 L1188.0,686.6 L1188.5,686.6 L1189.0,686.6 L1189.5,686.9 L1190.0,686.9 L1190.5,686.8 L1191.0,686.8 L1191.5,686.7 L1192.0,686.7 L1192.5,686.6 L1193.0,686.5 L1193.5,686.5 L1194.0,686.1 L1194.5,686.0 L1195.0,686.0 L1195.5,686.2 L1196.0,686.2 L1196.5,686.1 L1197.0,686.3 L1197.5,686.3 L1198.0,686.2 L1198.5,685.7 L1199.0,685.6 L1199.5,685.5 L1200.0,685.8 L1200.5,685.7 L1201.0,685.6 L1201.5,685.4 L1202.0,685.3 L1202.5,685.1 L1203.0,684.6 L1203.5,684.4 L1204.0,684.1 L1204.5,684.0 L1205.0,683.6 L1205.5,683.3 L1206.0,683.1 L1206.5,682.6 L1207.0,681.9 L1207.5,681.2 L1208.0,680.0 L1208.5,678.4 L1209.0,675.9 L1209.5,672.9 L1210.0,669.4 L1210.5,666.3 L1210.9,665.3 L1211.0,665.4 L1211.5,667.4 L1212.0,670.8 L1212.5,674.2 L1213.0,676.9 L1213.5,678.6 L1214.0,680.0 L1214.5,681.0 L1215.0,681.9 L1215.5,682.5 L1216.0,682.9 L1216.5,683.0 L1217.0,683.2 L1217.5,683.3 L1218.0,683.5 L1218.5,683.4 L1219.0,683.3 L1219.5,683.3 L1220.0,683.1 L1220.5,683.0 L1221.0,682.4 L1221.5,682.3 L1222.0,682.3 L1222.5,682.6 L1223.0,682.7 L1223.5,683.0 L1224.0,683.1 L1224.5,683.5 L1225.0,683.8 L1225.5,684.0 L1226.0,684.4 L1226.5,684.7 L1227.0,685.4 L1227.5,685.7 L1228.0,685.9 L1228.5,685.6 L1229.0,685.8 L1229.5,685.8 L1230.0,686.2 L1230.5,686.2 L1231.0,686.2 L1231.5,686.3 L1232.0,686.4 L1232.5,686.4 L1233.0,686.4 L1233.5,686.4 L1234.0,686.4 L1234.5,686.3 L1235.0,686.3 L1235.5,686.3 L1236.0,686.7 L1236.5,686.7 L1237.0,686.7 L1237.5,686.2 L1238.0,686.2 L1238.5,686.2 L1239.0,686.3 L1239.5,686.3 L1240.0,686.3 L1240.5,686.2 L1241.0,686.2 L1241.5,686.2 L1242.0,686.4 L1242.5,686.4 L1243.0,686.4 L1243.5,686.7 L1244.0,686.7 L1244.5,686.7 L1245.0,686.6 L1245.5,686.6 L1246.0,686.6 L1246.5,686.6 L1247.0,686.6 L1247.5,686.6 L1248.0,686.5 L1248.5,686.5 L1249.0,686.5 L1249.5,686.2 L1250.0,686.2 L1250.5,686.2 L1251.0,686.2 L1251.5,686.1 L1252.0,686.1 L1252.5,685.8 L1253.0,685.7 L1253.5,685.7 L1254.0,686.2 L1254.5,686.2 L1255.0,686.1 L1255.5,685.6 L1256.0,685.6 L1256.5,685.6 L1257.0,685.5 L1257.5,685.4 L1258.0,685.4 L1258.5,685.5 L1259.0,685.4 L1259.5,685.4 L1260.0,685.5 L1260.5,685.5 L1261.0,685.4 L1261.5,685.0 L1262.0,684.9 L1262.5,684.8 L1263.0,684.7 L1263.5,684.6 L1264.0,684.5 L1264.5,684.4 L1265.0,684.2 L1265.5,684.1 L1266.0,684.1 L1266.5,683.9 L1267.0,683.7 L1267.5,683.2 L1268.0,682.9 L1268.5,682.6 L1269.0,682.7 L1269.5,682.3 L1270.0,681.8 L1270.5,680.8 L1271.0,680.1 L1271.5,679.3 L1272.0,678.5 L1272.5,677.4 L1273.0,676.0 L1273.5,674.7 L1274.0,672.8 L1274.5,671.1 L1275.0,669.7 L1275.5,668.8 L1275.8,668.7 L1276.0,668.8 L1276.5,669.5 L1277.0,670.8 L1277.5,672.5 L1278.0,673.9 L1278.5,675.5 L1279.0,676.9 L1279.5,677.9 L1280.0,678.9 L1280.5,679.8 L1281.0,680.9 L1281.5,681.5 L1282.0,682.0 L1282.5,682.6 L1283.0,683.0 L1283.5,683.3 L1284.0,683.4 L1284.5,683.6 L1285.0,683.8 L1285.5,684.2 L1286.0,684.4 L1286.5,684.6 L1287.0,684.3 L1287.5,684.4 L1288.0,684.6 L1288.5,685.0 L1289.0,685.2 L1289.5,685.3 L1290.0,685.5 L1290.5,685.6 L1291.0,685.6 L1291.5,685.6 L1292.0,685.7 L1292.5,685.8 L1293.0,685.5 L1293.5,685.5 L1294.0,685.6 L1294.5,685.8 L1295.0,685.9 L1295.5,685.9 L1296.0,686.1 L1296.5,686.1 L1297.0,686.2 L1297.5,686.3 L1298.0,686.3 L1298.5,686.4 L1299.0,686.3 L1299.5,686.4 L1300.0,686.4 L1300.5,686.1 L1301.0,686.1 L1301.5,686.2 L1302.0,686.5 L1302.5,686.5 L1303.0,686.5 L1303.5,686.7 L1304.0,686.7 L1304.5,686.7 L1305.0,686.8 L1305.5,686.8 L1306.0,686.8 L1306.5,686.8 L1307.0,686.8 L1307.5,686.8 L1308.0,686.4 L1308.5,686.5 L1309.0,686.5 L1309.5,686.5 L1310.0,686.5 L1310.5,686.5 L1311.0,686.7 L1311.5,686.7 L1312.0,686.7 L1312.5,686.8 L1313.0,686.8 L1313.5,686.8 L1314.0,687.1 L1314.5,687.1 L1315.0,687.1 L1315.5,686.7 L1316.0,686.7 L1316.5,686.7 L1317.0,686.9 L1317.5,686.9 L1318.0,686.9 L1318.5,686.5 L1319.0,686.5 L1319.5,686.6 L1320.0,687.2 L1320.5,687.2 L1321.0,687.2 L1321.5,686.7 L1322.0,686.7 L1322.5,686.7 L1323.0,686.9 L1323.5,686.9 L1324.0,686.9 L1324.5,687.1 L1325.0,687.1 L1325.5,687.1 L1326.0,687.1 L1326.5,687.1 L1327.0,687.1 L1327.5,687.2 L1328.0,687.2 L1328.5,687.2 L1329.0,687.2 L1329.5,687.2 L1330.0,687.2 L1330.5,687.2 L1331.0,687.2 L1331.5,687.2 L1332.0,687.0 L1332.5,687.0 L1333.0,687.0 L1333.5,686.9 L1334.0,686.9 L1334.5,686.9 L1335.0,687.2 L1335.5,687.2 L1336.0,687.2 L1336.5,686.8 L1337.0,686.8 L1337.5,686.8 L1338.0,686.8" stroke="#ff0000"/>
<path d="M100.5,931.3 L101.0,931.3 L101.5,931.3 L102.0,931.5 L102.5,931.5 L103.0,931.5 L103.5,931.4 L104.0,931.4 L104.5,931.4 L105.0,931.6 L105.5,931.6 L106.0,931.6 L106.5,931.7 L107.0,931.7 L107.5,931.7 L108.0,931.7 L108.5,931.7 L109.0,931.7 L109.5,931.6 L110.0,931.6 L110.5,931.6 L111.0,931.4 L111.5,931.4 L112.0,931.4 L112.5,931.4 L113.0,931.4 L113.5,931.4 L114.0,931.1 L114.5,931.1 L115.0,931.1 L115.5,931.6 L116.0,931.6 L116.5,931.6 L117.0,931.7 L117.5,931.7 L118.0,931.7 L118.5,931.5 L119.0,931.5 L119.5,931.5 L120.0,931.3 L120.5,931.3 L121.0,931.3 L121.5,931.5 L122.0,931.5 L122.5,931.5 L123.0,931.5 L123.5,931.5 L124.0,931.5 L124.5,931.5 L125.0,931.5 L125.5,931.5 L126.0,931.3 L126.5,931.3 L127.0,931.3 L127.5,931.1 L128.0,931.1 L128.5,931.1 L129.0,931.3 L129.5,931.3 L130.0,931.3 L130.5,931.0 L131.0,931.0 L131.5,931.0 L132.0,931.5 L132.5,931.5 L133.0,931.5 L133.5,931.2 L134.0,931.1 L134.5,931.1 L135.0,931.6 L135.5,931.6 L136.0,931.5 L136.5,931.2 L137.0,931.1 L137.5,931.1 L138.0,931.2 L138.5,931.1 L139.0,931.0 L139.5,930.5 L140.0,930.4 L140.5,930.2 L141.0,930.1 L141.5,929.8 L142.0,929.4 L142.5,928.4 L143.0,926.1 L143.5,922.8 L143.6,922.6 L144.0,924.7 L144.5,927.7 L145.0,929.1 L145.5,929.8 L146.0,930.1 L146.5,930.4 L147.0,930.5 L147.5,930.7 L148.0,930.8 L148.5,930.8 L149.0,930.9 L149.5,930.9 L150.0,931.3 L150.5,931.3 L151.0,931.3 L151.5,931.2 L152.0,931.3 L152.5,931.3 L153.0,931.0 L153.5,931.0 L154.0,931.0 L154.5,931.4 L155.0,931.5 L155.5,931.5 L156.0,931.5 L156.5,931.6 L157.0,931.6 L157.5,931.5 L158.0,931.5 L158.5,931.5 L159.0,931.4 L159.5,931.4 L160.0,931.4 L160.5,931.2 L161.0,931.2 L161.5,931.2 L162.0,931.2 L162.5,931.2 L163.0,931.2 L163.5,931.5 L164.0,931.5 L164.5,931.5 L165.0,931.5 L165.5,931.5 L166.0,931.5 L166.5,931.6 L167.0,931.6 L167.5,931.6 L168.0,931.4 L168.5,931.4 L169.0,931.4 L169.5,931.1 L170.0,931.1 L170.5,931.1 L171.0,931.6 L171.5,931.6 L172.0,931.6 L172.5,931.3 L173.0,931.3 L173.5,931.3 L174.0,931.4 L174.5,931.4 L175.0,931.4 L175.5,931.6 L176.0,931.6 L176.5,931.6 L177.0,931.7 L177.5,931.7 L178.0,931.7 L178.5,931.3 L179.0,931.3 L179.5,931.3 L180.0,931.2 L180.5,931.2 L181.0,931.2 L181.5,931.6 L182.0,931.6 L182.5,931.6 L183.0,931.6 L183.5,931.6 L184.0,931.6 L184.5,931.2 L185.0,931.2 L185.5,931.2 L186.0,931.3 L186.5,931.3 L187.0,931.3 L187.5,931.5 L188.0,931.5 L188.5,931.5 L189.0,931.7 L189.5,931.7 L190.0,931.7 L190.5,931.3 L191.0,931.3 L191.5,931.3 L192.0,931.7 L192.5,931.7 L193.0,931.7 L193.5,931.5 L194.0,931.5 L194.5,931.5 L195.0,931.4 L195.5,931.4 L196.0,931.4 L196.5,931.6 L197.0,931.6 L197.5,931.6 L198.0,931.6 L198.5,931.6 L199.0,931.6 L199.5,931.7 L200.0,931.7 L200.5,931.7 L201.0,931.4 L201.5,931.4 L202.0,931.3 L202.5,931.5 L203.0,931.5 L203.5,931.5 L204.0,931.6 L204.5,931.6 L205.0,931.6 L205.5,931.6 L206.0,931.6 L206.5,931.6 L207.0,931.1 L207.5,931.1 L208.0,931.0 L208.5,930.9 L209.0,930.9 L209.5,930.9 L210.0,931.6 L210.5,931.5 L211.0,931.5 L211.5,931.0 L212.0,931.0 L212.5,931.0 L213.0,931.2 L213.5,931.2 L214.0,931.2 L214.5,931.4 L215.0,931.4 L215.5,931.4 L216.0,931.0 L216.5,931.0 L217.0,931.0 L217.5,931.2 L218.0,931.2 L218.5,931.2 L219.0,930.7 L219.5,930.7 L220.0,930.7 L220.5,930.7 L221.0,930.6 L221.5,930.6 L222.0,930.8 L222.5,930.7 L223.0,930.6 L223.5,930.2 L224.0,930.1 L224.5,930.0 L225.0,930.2 L225.5,930.0 L226.0,929.8 L226.5,929.7 L227.0,929.5 L227.5,929.1 L228.0,928.2 L228.5,927.8 L229.0,927.2 L229.5,926.7 L230.0,925.7 L230.5,924.4 L231.0,922.3 L231.5,919.0 L232.0,912.5 L232.5,899.9 L233.0,889.1 L233.5,899.9 L234.0,912.5 L234.5,919.0 L235.0,922.3 L235.5,924.1 L236.0,925.4 L236.5,926.4 L237.0,927.3 L237.5,927.9 L238.0,928.3 L238.5,929.0 L239.0,929.3 L239.5,929.5 L240.0,929.5 L240.5,929.7 L241.0,929.9 L241.5,929.9 L242.0,930.0 L242.5,930.1 L243.0,930.3 L243.5,930.4 L244.0,930.5 L244.5,930.5 L245.0,930.6 L245.5,930.6 L246.0,931.0 L246.5,931.0 L247.0,931.1 L247.5,931.2 L248.0,931.2 L248.5,931.2 L249.0,931.3 L249.5,931.3 L250.0,931.4 L250.5,930.9 L251.0,930.9 L251.5,930.9 L252.0,931.2 L252.5,931.2 L253.0,931.2 L253.5,931.3 L254.0,931.3 L254.5,931.4 L255.0,931.2 L255.5,931.2 L256.0,931.2 L256.5,931.5 L257.0,931.5 L257.5,931.5 L258.0,931.5 L258.5,931.5 L259.0,931.5 L259.5,931.4 L260.0,931.4 L260.5,931.4 L261.0,931.3 L261.5,931.3 L262.0,931.3 L262.5,931.5 L263.0,931.4 L263.5,931.4 L264.0,931.3 L264.5,931.2 L265.0,931.1 L265.5,931.0 L266.0,930.7 L266.5,930.5 L267.0,930.0 L267.5,928.9 L268.0,927.7 L268.5,928.9 L269.0,930.0 L269.5,930.5 L270.0,930.7 L270.5,930.7 L271.0,930.8 L271.5,930.8 L272.0,930.9 L272.5,931.0 L273.0,931.5 L273.5,931.5 L274.0,931.5 L274.5,931.2 L275.0,931.2 L275.5,931.2 L276.0,931.2 L276.5,931.2 L277.0,931.2 L277.5,931.2 L278.0,931.2 L278.5,931.2 L279.0,931.2 L279.5,931.2 L280.0,931.2 L280.5,931.6 L281.0,931.6 L281.5,931.6 L282.0,931.3 L282.5,931.3 L283.0,931.3 L283.5,931.4 L284.0,931.4 L284.5,931.4 L285.0,931.3 L285.5,931.3 L286.0,931.3 L286.5,931.0 L287.0,931.0 L287.5,931.0 L288.0,931.0 L288.5,931.0 L289.0,931.0 L289.5,931.7 L290.0,931.7 L290.5,931.7 L291.0,931.5 L291.5,931.5 L292.0,931.5 L292.5,931.2 L293.0,931.2 L293.5,931.2 L294.0,931.7 L294.5,931.7 L295.0,931.7 L295.5,931.5 L296.0,931.5 L296.5,931.5 L297.0,931.1 L297.5,931.1 L298.0,931.1 L298.5,931.1 L299.0,931.1 L299.5,931.1 L300.0,931.5 L300.5,931.5 L301.0,931.5 L301.5,931.2 L302.0,931.1 L302.5,931.1 L303.0,931.1 L303.5,931.1 L304.0,931.1 L304.5,931.4 L305.0,931.3 L305.5,931.3 L306.0,931.4 L306.5,931.4 L307.0,931.3 L307.5,931.1 L308.0,931.1 L308.5,931.0 L309.0,931.1 L309.5,931.1 L310.0,931.0 L310.5,930.5 L311.0,930.5 L311.5,930.4 L312.0,930.7 L312.5,930.6 L313.0,930.6 L313.5,930.7 L314.0,930.6 L314.5,930.6 L315.0,930.3 L315.5,930.3 L316.0,930.2 L316.5,930.0 L317.0,930.0 L317.5,929.9 L318.0,930.2 L318.5,930.2 L319.0,930.1 L319.5,930.3 L320.0,930.3 L320.5,930.2 L321.0,930.0 L321.5,930.0 L322.0,930.0 L322.5,930.3 L323.0,930.2 L323.5,930.2 L324.0,929.9 L324.5,929.9 L325.0,929.9 L325.5,929.8 L326.0,929.8 L326.5,929.9 L327.0,929.6 L327.5,929.6 L328.0,929.7 L328.5,929.8 L329.0,929.8 L329.5,929.8 L330.0,930.4 L330.5,930.5 L331.0,930.5 L331.5,930.2 L332.0,930.3 L332.5,930.3 L333.0,930.6 L333.5,930.6 L334.0,930.7 L334.5,930.6 L335.0,930.6 L335.5,930.7 L336.0,930.9 L336.5,930.9 L337.0,930.9 L337.5,930.8 L338.0,930.9 L338.5,930.9 L339.0,930.7 L339.5,930.8 L340.0,930.8 L340.5,930.8 L341.0,930.9 L341.5,930.9 L342.0,931.2 L342.5,931.3 L343.0,931.3 L343.5,931.2 L344.0,931.2 L344.5,931.3 L345.0,931.5 L345.5,931.5 L346.0,931.5 L346.5,931.5 L347.0,931.5 L347.5,931.5 L348.0,931.6 L348.5,931.6 L349.0,931.6 L349.5,931.5 L350.0,931.5 L350.5,931.5 L351.0,931.6 L351.5,931.6 L352.0,931.6 L352.5,931.2 L353.0,931.2 L353.5,931.3 L354.0,931.4 L354.5,931.4 L355.0,931.4 L355.5,931.3 L356.0,931.3 L356.5,931.3 L357.0,931.2 L357.5,931.2 L358.0,931.2 L358.5,931.7 L359.0,931.7 L359.5,931.7 L360.0,931.4 L360.5,931.4 L361.0,931.4 L361.5,931.7 L362.0,931.7 L362.5,931.7 L363.0,931.3 L363.5,931.3 L364.0,931.3 L364.5,931.3 L365.0,931.3 L365.5,931.3 L366.0,931.7 L366.5,931.7 L367.0,931.7 L367.5,931.5 L368.0,931.5 L368.5,931.5 L369.0,931.1 L369.5,931.1 L370.0,931.1 L370.5,931.5 L371.0,931.5 L371.5,931.5 L372.0,931.3 L372.5,931.3 L373.0,931.3 L373.5,931.5 L374.0,931.5 L374.5,931.5 L375.0,931.2 L375.5,931.2 L376.0,931.2 L376.5,931.5 L377.0,931.5 L377.5,931.5 L378.0,931.5 L378.5,931.5 L379.0,931.5 L379.5,931.4 L380.0,931.4 L380.5,931.4 L381.0,931.1 L381.5,931.1 L382.0,931.1 L382.5,931.3 L383.0,931.3 L383.5,931.3 L384.0,931.6 L384.5,931.6 L385.0,931.6 L385.5,931.7 L386.0,931.7 L386.5,931.7 L387.0,931.6 L387.5,931.6 L388.0,931.6 L388.5,931.4 L389.0,931.4 L389.5,931.4 L390.0,931.7 L390.5,931.7 L391.0,931.7 L391.5,931.7 L392.0,931.7 L392.5,931.7 L393.0,931.4 L393.5,931.4 L394.0,931.4 L394.5,931.2 L395.0,931.2 L395.5,931.2 L396.0,931.7 L396.5,931.7 L397.0,931.7 L397.5,931.5 L398.0,931.5 L398.5,931.5 L399.0,931.7 L399.5,931.7 L400.0,931.7 L400.5,931.5 L401.0,931.5 L401.5,931.5 L402.0,931.4 L402.5,931.4 L403.0,931.4 L403.5,931.2 L404.0,931.2 L404.5,931.2 L405.0,931.4 L405.5,931.4 L406.0,931.4 L406.5,931.3 L407.0,931.3 L407.5,931.3 L408.0,931.4 L408.5,931.4 L409.0,931.4 L409.5,931.3 L410.0,931.3 L410.5,931.3 L411.0,931.3 L411.5,931.3 L412.0,931.3 L412.5,931.7 L413.0,931.7 L413.5,931.7 L414.0,931.4 L414.5,931.4 L415.0,931.4 L415.5,931.6 L416.0,931.6 L416.5,931.6 L417.0,931.3 L417.5,931.3 L418.0,931.3 L418.5,931.1 L419.0,931.1 L419.5,931.1 L420.0,931.7 L420.5,931.7 L421.0,931.7 L421.5,931.3 L422.0,931.3 L422.5,931.3 L423.0,931.4 L423.5,931.4 L424.0,931.4 L424.5,931.6 L425.0,931.6 L425.5,931.6 L426.0,931.1 L426.5,931.1 L427.0,931.1 L427.5,931.6 L428.0,931.5 L428.5,931.5 L429.0,931.4 L429.5,931.4 L430.0,931.4 L430.5,931.2 L431.0,931.2 L431.5,931.2 L432.0,931.1 L432.5,931.1 L433.0,931.0 L433.5,931.2 L434.0,931.2 L434.5,931.1 L435.0,931.2 L435.5,931.1 L436.0,931.1 L436.5,931.0 L437.0,930.9 L437.5,930.7 L438.0,930.6 L438.5,930.3 L439.0,929.8 L439.5,929.2 L440.0,927.7 L440.5,924.6 L440.8,923.4 L441.0,924.0 L441.5,927.2 L442.0,928.9 L442.5,929.7 L443.0,930.3 L443.5,930.5 L444.0,930.6 L444.5,930.8 L445.0,930.9 L445.5,930.9 L446.0,931.0 L446.5,931.1 L447.0,931.2 L447.5,931.3 L448.0,931.3 L448.5,930.9 L449.0,931.0 L449.5,931.0 L450.0,931.0 L450.5,931.0 L451.0,931.0 L451.5,931.4 L452.0,931.4 L452.5,931.4 L453.0,931.6 L453.5,931.6 L454.0,931.6 L454.5,931.2 L455.0,931.2 L455.5,931.2 L456.0,931.0 L456.5,931.0 L457.0,931.0 L457.5,931.0 L458.0,931.0 L458.5,931.0 L459.0,931.4 L459.5,931.4 L460.0,931.4 L460.5,931.2 L461.0,931.2 L461.5,931.2 L462.0,931.1 L462.5,931.1 L463.0,931.1 L463.5,931.6 L464.0,931.5 L464.5,931.5 L465.0,931.4 L465.5,931.4 L466.0,931.4 L466.5,931.1 L467.0,931.0 L467.5,931.0 L468.0,931.2 L468.5,931.1 L469.0,931.0 L469.5,930.7 L470.0,930.2 L470.5,929.6 L471.0,928.3 L471.5,926.0 L471.7,925.6 L472.0,926.5 L472.5,928.7 L473.0,929.8 L473.5,930.3 L474.0,930.4 L474.5,930.6 L475.0,930.7 L475.5,930.9 L476.0,931.0 L476.5,931.1 L477.0,931.3 L477.5,931.3 L478.0,931.4 L478.5,931.0 L479.0,931.0 L479.5,931.0 L480.0,931.5 L480.5,931.5 L481.0,931.5 L481.5,931.4 L482.0,931.4 L482.5,931.4 L483.0,931.4 L483.5,931.4 L484.0,931.4 L484.5,931.2 L485.0,931.2 L485.5,931.2 L486.0,931.3 L486.5,931.3 L487.0,931.3 L487.5,931.6 L488.0,931.6 L488.5,931.6 L489.0,931.3 L489.5,931.3 L490.0,931.3 L490.5,931.1 L491.0,931.1 L491.5,931.1 L492.0,931.4 L492.5,931.5 L493.0,931.5 L493.5,931.3 L494.0,931.3 L494.5,931.3 L495.0,931.3 L495.5,931.3 L496.0,931.3 L496.5,931.3 L497.0,931.3 L497.5,931.3 L498.0,931.7 L498.5,931.7 L499.0,931.7 L499.5,931.3 L500.0,931.3 L500.5,931.3 L501.0,931.2 L501.5,931.2 L502.0,931.2 L502.5,931.3 L503.0,931.3 L503.5,931.3 L504.0,931.6 L504.5,931.6 L505.0,931.6 L505.5,931.3 L506.0,931.3 L506.5,931.3 L507.0,931.4 L507.5,931.4 L508.0,931.4 L508.5,931.7 L509.0,931.7 L509.5,931.7 L510.0,931.2 L510.5,931.2 L511.0,931.2 L511.5,931.1 L512.0,931.1 L512.5,931.1 L513.0,931.7 L513.5,931.7 L514.0,931.7 L514.5,931.4 L515.0,931.4 L515.5,931.4 L516.0,931.6 L516.5,931.6 L517.0,931.6 L517.5,931.2 L518.0,931.2 L518.5,931.2 L519.0,931.7 L519.5,931.7 L520.0,931.7 L520.5,931.2 L521.0,931.2 L521.5,931.2 L522.0,931.0 L522.5,931.0 L523.0,931.0 L523.5,931.4 L524.0,931.4 L524.5,931.4 L525.0,931.6 L525.5,931.6 L526.0,931.6 L526.5,931.6 L527.0,931.6 L527.5,931.6 L528.0,931.7 L528.5,931.7 L529.0,931.7 L529.5,931.5 L530.0,931.5 L530.5,931.5 L531.0,931.1 L531.5,931.1 L532.0,931.1 L532.5,931.4 L533.0,931.4 L533.5,931.4 L534.0,931.1 L534.5,931.1 L535.0,931.1 L535.5,931.0 L536.0,931.0 L536.5,931.0 L537.0,931.5 L537.5,931.5 L538.0,931.5 L538.5,931.3 L539.0,931.3 L539.5,931.3 L540.0,931.7 L540.5,931.7 L541.0,931.7 L541.5,931.1 L542.0,931.1 L542.5,931.1 L543.0,931.5 L543.5,931.5 L544.0,931.5 L544.5,931.4 L545.0,931.4 L545.5,931.4 L546.0,931.4 L546.5,931.4 L547.0,931.4 L547.5,931.5 L548.0,931.5 L548.5,931.5 L549.0,931.7 L549.5,931.7 L550.0,931.7 L550.5,931.4 L551.0,931.4 L551.5,931.4 L552.0,931.3 L552.5,931.3 L553.0,931.3 L553.5,931.0 L554.0,931.0 L554.5,931.0 L555.0,931.2 L555.5,931.2 L556.0,931.2 L556.5,931.2 L557.0,931.2 L557.5,931.2 L558.0,931.5 L558.5,931.5 L559.0,931.5 L559.5,931.4 L560.0,931.4 L560.5,931.4 L561.0,931.3 L561.5,931.3 L562.0,931.3 L562.5,931.0 L563.0,931.0 L563.5,931.0 L564.0,931.5 L564.5,931.5 L565.0,931.5 L565.5,931.3 L566.0,931.3 L566.5,931.3 L567.0,931.2 L567.5,931.2 L568.0,931.2 L568.5,931.1 L569.0,931.1 L569.5,931.1 L570.0,931.1 L570.5,931.1 L571.0,931.0 L571.5,930.8 L572.0,930.7 L572.5,930.7 L573.0,931.2 L573.5,931.2 L574.0,931.1 L574.5,930.9 L575.0,930.9 L575.5,930.9 L576.0,931.0 L576.5,931.0 L577.0,930.9 L577.5,930.8 L578.0,930.7 L578.5,930.6 L579.0,930.5 L579.5,930.4 L580.0,930.3 L580.5,930.0 L581.0,929.9 L581.5,929.7 L582.0,929.1 L582.5,928.9 L583.0,928.7 L583.5,928.5 L584.0,928.1 L584.5,927.6 L585.0,926.8 L585.5,926.0 L586.0,924.7 L586.5,922.9 L587.0,919.5 L587.5,914.6 L588.0,910.6 L588.1,910.5 L588.5,912.6 L589.0,917.6 L589.5,921.7 L590.0,924.2 L590.5,925.3 L591.0,926.9 L591.5,927.5 L592.0,928.0 L592.5,928.1 L593.0,928.4 L593.5,928.6 L594.0,928.7 L594.5,928.8 L595.0,928.8 L595.5,928.9 L596.0,928.8 L596.5,928.6 L597.0,927.8 L597.5,927.4 L598.0,926.3 L598.5,924.1 L599.0,919.1 L599.5,913.7 L600.0,919.2 L600.5,924.3 L601.0,926.6 L601.5,927.8 L602.0,928.5 L602.5,929.0 L603.0,929.3 L603.5,929.6 L604.0,929.8 L604.5,929.9 L605.0,930.1 L605.5,930.2 L606.0,930.5 L606.5,930.6 L607.0,930.6 L607.5,930.7 L608.0,930.8 L608.5,930.8 L609.0,930.5 L609.5,930.5 L610.0,930.5 L610.5,930.6 L611.0,930.6 L611.5,930.7 L612.0,931.2 L612.5,931.2 L613.0,931.3 L613.5,930.8 L614.0,930.8 L614.5,930.9 L615.0,931.2 L615.5,931.2 L616.0,931.2 L616.5,930.9 L617.0,930.9 L617.5,930.9 L618.0,931.3 L618.5,931.3 L619.0,931.3 L619.5,931.0 L620.0,931.0 L620.5,931.0 L621.0,931.1 L621.5,931.1 L622.0,931.1 L622.5,931.0 L623.0,931.0 L623.5,931.0 L624.0,931.0 L624.5,931.0 L625.0,931.0 L625.5,931.0 L626.0,931.0 L626.5,931.0 L627.0,931.0 L627.5,931.0 L628.0,931.0 L628.5,930.9 L629.0,930.9 L629.5,930.9 L630.0,930.7 L630.5,930.7 L631.0,930.7 L631.5,930.7 L632.0,930.7 L632.5,930.7 L633.0,930.8 L633.5,930.7 L634.0,930.7 L634.5,930.8 L635.0,930.8 L635.5,930.7 L636.0,930.8 L636.5,930.7 L637.0,930.7 L637.5,930.7 L638.0,930.7 L638.5,930.6 L639.0,930.1 L639.5,930.0 L640.0,929.8 L640.5,929.9 L641.0,929.3 L641.5,928.5 L642.0,926.9 L642.5,924.0 L642.7,923.4 L643.0,924.5 L643.5,927.2 L644.0,928.5 L644.5,929.1 L645.0,929.1 L645.5,929.3 L646.0,929.4 L646.5,929.7 L647.0,929.7 L647.5,929.6 L648.0,929.5 L648.5,929.3 L649.0,929.2 L649.5,929.2 L650.0,928.9 L650.5,928.5 L651.0,927.8 L651.5,926.6 L652.0,924.1 L652.5,919.0 L652.8,917.0 L653.0,918.0 L653.5,923.2 L654.0,926.1 L654.5,927.4 L655.0,928.3 L655.5,928.6 L656.0,928.9 L656.5,929.1 L657.0,929.1 L657.5,929.1 L658.0,929.2 L658.5,929.0 L659.0,929.0 L659.5,928.9 L660.0,928.5 L660.5,928.3 L661.0,928.1 L661.5,928.5 L662.0,928.2 L662.5,927.9 L663.0,927.4 L663.5,926.8 L664.0,926.3 L664.5,925.6 L665.0,924.8 L665.5,923.9 L666.0,922.4 L666.5,921.2 L667.0,919.8 L667.5,918.5 L668.0,916.7 L668.5,914.6 L669.0,911.8 L669.5,908.4 L670.0,903.5 L670.5,894.5 L671.0,878.2 L671.5,854.4 L671.9,842.2 L672.0,842.2 L672.5,855.8 L673.0,866.8 L673.5,862.2 L674.0,846.6 L674.3,842.2 L674.5,845.0 L675.0,863.4 L675.5,877.1 L676.0,879.4 L676.5,870.2 L677.0,848.7 L677.5,815.9 L678.0,783.8 L678.3,777.2 L678.5,781.2 L679.0,813.0 L679.5,850.7 L680.0,878.8 L680.5,896.4 L681.0,906.0 L681.5,911.8 L682.0,915.5 L682.5,918.6 L683.0,920.5 L683.5,922.0 L684.0,923.4 L684.5,924.4 L685.0,925.2 L685.5,925.7 L686.0,926.3 L686.5,926.8 L687.0,927.4 L687.5,927.7 L688.0,928.1 L688.5,928.1 L689.0,928.4 L689.5,928.6 L690.0,928.7 L690.5,928.9 L691.0,929.0 L691.5,929.3 L692.0,929.4 L692.5,929.5 L693.0,929.8 L693.5,929.9 L694.0,930.0 L694.5,930.1 L695.0,930.1 L695.5,930.2 L696.0,929.9 L696.5,930.0 L697.0,930.0 L697.5,930.2 L698.0,930.2 L698.5,930.3 L699.0,930.5 L699.5,930.5 L700.0,930.5 L700.5,930.0 L701.0,930.0 L701.5,930.0 L702.0,929.8 L702.5,929.7 L703.0,929.6 L703.5,930.1 L704.0,930.0 L704.5,929.8 L705.0,929.4 L705.5,929.1 L706.0,928.3 L706.5,927.4 L707.0,925.3 L707.5,920.8 L707.9,917.7 L708.0,918.0 L708.5,923.0 L709.0,926.4 L709.5,927.9 L710.0,928.8 L710.5,929.3 L711.0,929.5 L711.5,929.7 L712.0,929.9 L712.5,930.2 L713.0,930.3 L713.5,930.4 L714.0,930.6 L714.5,930.7 L715.0,930.7 L715.5,930.5 L716.0,930.5 L716.5,930.6 L717.0,931.0 L717.5,931.1 L718.0,931.1 L718.5,931.0 L719.0,931.0 L719.5,931.0 L720.0,930.8 L720.5,930.8 L721.0,930.8 L721.5,931.2 L722.0,931.2 L722.5,931.2 L723.0,931.0 L723.5,931.0 L724.0,931.0 L724.5,930.9 L725.0,930.8 L725.5,930.8 L726.0,930.9 L726.5,930.9 L727.0,930.9 L727.5,930.5 L728.0,930.5 L728.5,930.4 L729.0,930.2 L729.5,930.0 L730.0,929.9 L730.5,929.6 L731.0,929.3 L731.5,928.9 L732.0,928.8 L732.5,927.9 L733.0,926.1 L733.5,922.1 L734.0,917.7 L734.5,922.1 L735.0,926.1 L735.5,928.0 L736.0,928.9 L736.5,929.3 L737.0,929.6 L737.5,929.9 L738.0,930.5 L738.5,930.7 L739.0,930.8 L739.5,930.7 L740.0,930.8 L740.5,930.8 L741.0,930.8 L741.5,930.8 L742.0,930.8 L742.5,931.2 L743.0,931.3 L743.5,931.3 L744.0,931.1 L744.5,931.2 L745.0,931.2 L745.5,931.4 L746.0,931.4 L746.5,931.4 L747.0,931.5 L747.5,931.5 L748.0,931.5 L748.5,931.1 L749.0,931.2 L749.5,931.2 L750.0,931.4 L750.5,931.4 L751.0,931.4 L751.5,931.1 L752.0,931.1 L752.5,931.1 L753.0,931.2 L753.5,931.2 L754.0,931.2 L754.5,931.1 L755.0,931.1 L755.5,931.1 L756.0,931.3 L756.5,931.3 L757.0,931.3 L757.5,931.5 L758.0,931.5 L758.5,931.5 L759.0,931.2 L759.5,931.2 L760.0,931.2 L760.5,931.0 L761.0,931.0 L761.5,931.0 L762.0,931.4 L762.5,931.4 L763.0,931.4 L763.5,931.4 L764.0,931.4 L764.5,931.4 L765.0,931.2 L765.5,931.2 L766.0,931.2 L766.5,931.3 L767.0,931.3 L767.5,931.3 L768.0,931.3 L768.5,931.2 L769.0,931.2 L769.5,931.4 L770.0,931.3 L770.5,931.2 L771.0,930.5 L771.5,930.3 L772.0,930.1 L772.5,929.6 L773.0,929.3 L773.5,929.1 L774.0,929.5 L774.5,929.3 L775.0,929.2 L775.5,928.8 L776.0,928.8 L776.5,928.9 L777.0,929.5 L777.5,929.7 L778.0,929.9 L778.5,929.8 L779.0,930.1 L779.5,930.3 L780.0,930.6 L780.5,930.8 L781.0,931.0 L781.5,930.9 L782.0,931.0 L782.5,931.0 L783.0,931.3 L783.5,931.3 L784.0,931.4 L784.5,931.1 L785.0,931.1 L785.5,931.1 L786.0,931.4 L786.5,931.4 L787.0,931.5 L787.5,931.7 L788.0,931.7 L788.5,931.7 L789.0,931.6 L789.5,931.6 L790.0,931.6 L790.5,931.2 L791.0,931.2 L791.5,931.2 L792.0,931.3 L792.5,931.3 L793.0,931.3 L793.5,931.3 L794.0,931.3 L794.5,931.3 L795.0,931.5 L795.5,931.5 L796.0,931.5 L796.5,931.2 L797.0,931.2 L797.5,931.2 L798.0,931.2 L798.5,931.2 L799.0,931.2 L799.5,931.5 L800.0,931.5 L800.5,931.5 L801.0,931.1 L801.5,931.1 L802.0,931.1 L802.5,931.7 L803.0,931.7 L803.5,931.7 L804.0,931.6 L804.5,931.6 L805.0,931.6 L805.5,931.3 L806.0,931.3 L806.5,931.3 L807.0,931.5 L807.5,931.5 L808.0,931.5 L808.5,931.4 L809.0,931.4 L809.5,931.4 L810.0,931.7 L810.5,931.7 L811.0,931.7 L811.5,931.4 L812.0,931.4 L812.5,931.4 L813.0,931.7 L813.5,931.7 L814.0,931.7 L814.5,931.4 L815.0,931.4 L815.5,931.4 L816.0,931.6 L816.5,931.6 L817.0,931.6 L817.5,931.3 L818.0,931.3 L818.5,931.3 L819.0,931.2 L819.5,931.2 L820.0,931.2 L820.5,931.0 L821.0,931.0 L821.5,931.0 L822.0,931.5 L822.5,931.5 L823.0,931.5 L823.5,931.6 L824.0,931.6 L824.5,931.6 L825.0,931.3 L825.5,931.3 L826.0,931.3 L826.5,931.3 L827.0,931.3 L827.5,931.3 L828.0,931.5 L828.5,931.5 L829.0,931.5 L829.5,931.6 L830.0,931.6 L830.5,931.6 L831.0,931.4 L831.5,931.4 L832.0,931.4 L832.5,931.2 L833.0,931.2 L833.5,931.2 L834.0,931.5 L834.5,931.5 L835.0,931.5 L835.5,931.3 L836.0,931.3 L836.5,931.3 L837.0,931.5 L837.5,931.5 L838.0,931.5 L838.5,931.6 L839.0,931.6 L839.5,931.6 L840.0,931.1 L840.5,931.1 L841.0,931.1 L841.5,931.2 L842.0,931.2 L842.5,931.2 L843.0,931.0 L843.5,931.0 L844.0,931.0 L844.5,931.5 L845.0,931.5 L845.5,931.5 L846.0,931.6 L846.5,931.6 L847.0,931.6 L847.5,931.6 L848.0,931.6 L848.5,931.6 L849.0,931.5 L849.5,931.5 L850.0,931.5 L850.5,931.6 L851.0,931.6 L851.5,931.6 L852.0,931.5 L852.5,931.5 L853.0,931.5 L853.5,931.6 L854.0,931.6 L854.5,931.6 L855.0,931.1 L855.5,931.1 L856.0,931.1 L856.5,931.4 L857.0,931.4 L857.5,931.4 L858.0,931.5 L858.5,931.5 L859.0,931.5 L859.5,931.4 L860.0,931.4 L860.5,931.4 L861.0,931.4 L861.5,931.4 L862.0,931.4 L862.5,931.3 L863.0,931.3 L863.5,931.3 L864.0,931.3 L864.5,931.3 L865.0,931.3 L865.5,931.5 L866.0,931.5 L866.5,931.5 L867.0,931.4 L867.5,931.4 L868.0,931.4 L868.5,931.5 L869.0,931.5 L869.5,931.5 L870.0,931.2 L870.5,931.2 L871.0,931.2 L871.5,930.8 L872.0,930.8 L872.5,930.8 L873.0,931.0 L873.5,931.0 L874.0,931.0 L874.5,931.4 L875.0,931.4 L875.5,931.4 L876.0,931.0 L876.5,931.0 L877.0,930.9 L877.5,930.8 L878.0,930.8 L878.5,930.8 L879.0,931.1 L879.5,931.1 L880.0,931.0 L880.5,930.5 L881.0,930.5 L881.5,930.4 L882.0,930.8 L882.5,930.7 L883.0,930.6 L883.5,930.2 L884.0,930.0 L884.5,929.8 L885.0,929.3 L885.5,928.1 L886.0,926.1 L886.2,925.7 L886.5,926.5 L887.0,928.4 L887.5,929.3 L888.0,929.7 L888.5,929.5 L889.0,929.6 L889.5,930.3 L890.0,930.3 L890.5,930.3 L891.0,929.9 L891.5,929.9 L892.0,929.9 L892.5,930.2 L893.0,930.1 L893.5,930.0 L894.0,929.8 L894.5,929.7 L895.0,929.5 L895.5,929.2 L896.0,929.0 L896.5,928.8 L897.0,928.0 L897.5,927.7 L898.0,927.3 L898.5,927.2 L899.0,926.6 L899.5,926.0 L900.0,925.2 L900.5,924.0 L901.0,922.2 L901.5,919.3 L902.0,915.2 L902.5,909.3 L903.0,903.4 L903.3,902.1 L903.5,902.7 L904.0,908.0 L904.5,914.1 L905.0,918.7 L905.5,921.7 L906.0,923.5 L906.5,924.8 L907.0,925.8 L907.5,926.3 L908.0,926.9 L908.5,927.4 L909.0,927.9 L909.5,928.2 L910.0,928.5 L910.5,929.1 L911.0,929.3 L911.5,929.5 L912.0,929.5 L912.5,929.6 L913.0,929.8 L913.5,930.0 L914.0,930.1 L914.5,930.2 L915.0,930.3 L915.5,930.4 L916.0,930.4 L916.5,930.5 L917.0,930.6 L917.5,930.6 L918.0,930.9 L918.5,930.9 L919.0,931.0 L919.5,930.9 L920.0,930.9 L920.5,931.0 L921.0,930.9 L921.5,931.0 L922.0,931.0 L922.5,930.7 L923.0,930.7 L923.5,930.7 L924.0,930.8 L924.5,930.8 L925.0,930.8 L925.5,930.8 L926.0,930.8 L926.5,930.8 L927.0,930.9 L927.5,930.9 L928.0,930.9 L928.5,930.9 L929.0,930.9 L929.5,930.9 L930.0,931.2 L930.5,931.2 L931.0,931.2 L931.5,931.4 L932.0,931.4 L932.5,931.4 L933.0,931.2 L933.5,931.2 L934.0,931.2 L934.5,931.4 L935.0,931.4 L935.5,931.4 L936.0,931.1 L936.5,931.1 L937.0,931.1 L937.5,931.4 L938.0,931.4 L938.5,931.4 L939.0,931.2 L939.5,931.2 L940.0,931.2 L940.5,931.3 L941.0,931.3 L941.5,931.3 L942.0,931.5 L942.5,931.5 L943.0,931.5 L943.5,931.6 L944.0,931.6 L944.5,931.6 L945.0,931.0 L945.5,931.0 L946.0,931.0 L946.5,931.4 L947.0,931.4 L947.5,931.4 L948.0,931.3 L948.5,931.3 L949.0,931.3 L949.5,931.6 L950.0,931.6 L950.5,931.6 L951.0,931.4 L951.5,931.4 L952.0,931.4 L952.5,931.4 L953.0,931.4 L953.5,931.4 L954.0,931.0 L954.5,931.0 L955.0,931.0 L955.5,931.4 L956.0,931.4 L956.5,931.4 L957.0,931.0 L957.5,931.0 L958.0,931.0 L958.5,931.1 L959.0,931.1 L959.5,931.0 L960.0,931.4 L960.5,931.3 L961.0,931.3 L961.5,931.0 L962.0,930.9 L962.5,930.8 L963.0,930.7 L963.5,930.6 L964.0,930.4 L964.5,930.1 L965.0,929.7 L965.5,929.1 L966.0,928.0 L966.5,925.4 L967.0,921.7 L967.1,921.5 L967.5,923.8 L968.0,927.2 L968.5,928.8 L969.0,929.5 L969.5,930.0 L970.0,930.3 L970.5,930.2 L971.0,930.3 L971.5,930.5 L972.0,930.9 L972.5,931.0 L973.0,931.0 L973.5,931.2 L974.0,931.2 L974.5,931.3 L975.0,931.3 L975.5,931.3 L976.0,931.3 L976.5,931.4 L977.0,931.5 L977.5,931.5 L978.0,931.2 L978.5,931.3 L979.0,931.3 L979.5,931.2 L980.0,931.2 L980.5,931.2 L981.0,931.5 L981.5,931.5 L982.0,931.5 L982.5,931.3 L983.0,931.3 L983.5,931.3 L984.0,931.1 L984.5,931.1 L985.0,931.1 L985.5,931.4 L986.0,931.4 L986.5,931.4 L987.0,931.5 L987.5,931.5 L988.0,931.5 L988.5,931.3 L989.0,931.3 L989.5,931.3 L990.0,931.5 L990.5,931.5 L991.0,931.5 L991.5,931.1 L992.0,931.1 L992.5,931.1 L993.0,931.2 L993.5,931.2 L994.0,931.1 L994.5,930.7 L995.0,930.8 L995.5,930.6 L996.0,930.0 L996.5,929.2 L996.6,929.2 L997.0,929.7 L997.5,930.4 L998.0,930.7 L998.5,930.9 L999.0,930.8 L999.5,930.9 L1000.0,930.9 L1000.5,931.0 L1001.0,931.1 L1001.5,931.1 L1002.0,930.9 L1002.5,931.0 L1003.0,931.0 L1003.5,931.1 L1004.0,931.1 L1004.5,931.1 L1005.0,931.1 L1005.5,931.1 L1006.0,931.1 L1006.5,931.2 L1007.0,931.2 L1007.5,931.2 L1008.0,931.3 L1008.5,931.3 L1009.0,931.3 L1009.5,931.3 L1010.0,931.3 L1010.5,931.3 L1011.0,931.2 L1011.5,931.2 L1012.0,931.2 L1012.5,931.0 L1013.0,931.0 L1013.5,931.0 L1014.0,931.1 L1014.5,931.1 L1015.0,931.1 L1015.5,931.3 L1016.0,931.3 L1016.5,931.2 L1017.0,930.9 L1017.5,930.9 L1018.0,930.9 L1018.5,930.8 L1019.0,930.8 L1019.5,930.8 L1020.0,931.1 L1020.5,931.1 L1021.0,931.1 L1021.5,930.6 L1022.0,930.6 L1022.5,930.5 L1023.0,930.6 L1023.5,930.5 L1024.0,930.5 L1024.5,930.6 L1025.0,930.6 L1025.5,930.5 L1026.0,930.5 L1026.5,930.5 L1027.0,930.4 L1027.5,930.5 L1028.0,930.4 L1028.5,930.4 L1029.0,929.9 L1029.5,929.8 L1030.0,929.7 L1030.5,929.4 L1031.0,929.3 L1031.5,929.1 L1032.0,929.5 L1032.5,929.3 L1033.0,929.1 L1033.5,928.8 L1034.0,928.5 L1034.5,928.2 L1035.0,927.7 L1035.5,927.3 L1036.0,926.8 L1036.5,926.1 L1037.0,925.2 L1037.5,923.9 L1038.0,922.2 L1038.5,919.7 L1039.0,916.7 L1039.5,913.3 L1040.0,910.9 L1040.2,910.7 L1040.5,911.2 L1041.0,913.9 L1041.5,917.3 L1042.0,920.3 L1042.5,922.3 L1043.0,923.9 L1043.5,925.1 L1044.0,926.2 L1044.5,926.9 L1045.0,927.4 L1045.5,928.0 L1046.0,928.3 L1046.5,928.6 L1047.0,928.5 L1047.5,928.7 L1048.0,928.9 L1048.5,929.1 L1049.0,929.2 L1049.5,929.4 L1050.0,929.3 L1050.5,929.4 L1051.0,929.5 L1051.5,930.2 L1052.0,930.3 L1052.5,930.4 L1053.0,930.1 L1053.5,930.2 L1054.0,930.3 L1054.5,930.5 L1055.0,930.6 L1055.5,930.6 L1056.0,930.3 L1056.5,930.3 L1057.0,930.4 L1057.5,931.0 L1058.0,931.0 L1058.5,931.0 L1059.0,930.7 L1059.5,930.7 L1060.0,930.8 L1060.5,930.5 L1061.0,930.5 L1061.5,930.6 L1062.0,930.9 L1062.5,930.9 L1063.0,931.0 L1063.5,931.2 L1064.0,931.2 L1064.5,931.2 L1065.0,931.0 L1065.5,931.0 L1066.0,931.0 L1066.5,931.0 L1067.0,931.1 L1067.5,931.1 L1068.0,931.3 L1068.5,931.3 L1069.0,931.3 L1069.5,931.0 L1070.0,931.0 L1070.5,931.0 L1071.0,931.2 L1071.5,931.2 L1072.0,931.2 L1072.5,931.4 L1073.0,931.4 L1073.5,931.4 L1074.0,931.3 L1074.5,931.3 L1075.0,931.4 L1075.5,931.1 L1076.0,931.1 L1076.5,931.1 L1077.0,931.1 L1077.5,931.1 L1078.0,931.1 L1078.5,931.3 L1079.0,931.3 L1079.5,931.3 L1080.0,931.5 L1080.5,931.5 L1081.0,931.5 L1081.5,931.5 L1082.0,931.5 L1082.5,931.5 L1083.0,931.3 L1083.5,931.3 L1084.0,931.3 L1084.5,931.4 L1085.0,931.4 L1085.5,931.4 L1086.0,931.4 L1086.5,931.4 L1087.0,931.4 L1087.5,931.5 L1088.0,931.5 L1088.5,931.5 L1089.0,931.1 L1089.5,931.1 L1090.0,931.1 L1090.5,930.9 L1091.0,930.9 L1091.5,930.9 L1092.0,931.3 L1092.5,931.3 L1093.0,931.3 L1093.5,931.3 L1094.0,931.3 L1094.5,931.3 L1095.0,931.1 L1095.5,931.1 L1096.0,931.1 L1096.5,931.5 L1097.0,931.5 L1097.5,931.5 L1098.0,931.4 L1098.5,931.4 L1099.0,931.4 L1099.5,931.5 L1100.0,931.5 L1100.5,931.5 L1101.0,931.0 L1101.5,931.0 L1102.0,931.0 L1102.5,931.5 L1103.0,931.5 L1103.5,931.5 L1104.0,931.0 L1104.5,931.0 L1105.0,931.0 L1105.5,931.0 L1106.0,931.0 L1106.5,931.0 L1107.0,931.1 L1107.5,931.1 L1108.0,931.1 L1108.5,930.9 L1109.0,930.9 L1109.5,930.8 L1110.0,930.8 L1110.5,930.7 L1111.0,930.7 L1111.5,930.5 L1112.0,930.4 L1112.5,930.3 L1113.0,930.7 L1113.5,930.5 L1114.0,930.3 L1114.5,929.5 L1115.0,929.2 L1115.5,928.4 L1116.0,927.4 L1116.5,926.7 L1116.6,926.7 L1117.0,927.1 L1117.5,928.0 L1118.0,928.9 L1118.5,929.5 L1119.0,930.0 L1119.5,930.3 L1120.0,930.5 L1120.5,930.5 L1121.0,930.6 L1121.5,930.6 L1122.0,930.5 L1122.5,930.5 L1123.0,930.6 L1123.5,930.8 L1124.0,930.9 L1124.5,930.9 L1125.0,930.6 L1125.5,930.7 L1126.0,930.7 L1126.5,931.1 L1127.0,931.1 L1127.5,931.1 L1128.0,930.9 L1128.5,930.9 L1129.0,930.9 L1129.5,931.0 L1130.0,931.0 L1130.5,931.0 L1131.0,930.8 L1131.5,930.8 L1132.0,930.8 L1132.5,930.7 L1133.0,930.7 L1133.5,930.7 L1134.0,930.6 L1134.5,930.5 L1135.0,930.5 L1135.5,931.2 L1136.0,931.2 L1136.5,931.1 L1137.0,930.9 L1137.5,930.8 L1138.0,930.8 L1138.5,930.7 L1139.0,930.6 L1139.5,930.6 L1140.0,930.3 L1140.5,930.2 L1141.0,930.0 L1141.5,930.0 L1142.0,929.7 L1142.5,929.2 L1143.0,928.5 L1143.5,927.6 L1144.0,926.8 L1144.2,926.7 L1144.5,926.9 L1145.0,927.8 L1145.5,928.6 L1146.0,929.3 L1146.5,929.4 L1147.0,929.6 L1147.5,930.0 L1148.0,930.2 L1148.5,930.2 L1149.0,930.5 L1149.5,930.5 L1150.0,930.5 L1150.5,930.2 L1151.0,930.2 L1151.5,930.2 L1152.0,930.5 L1152.5,930.5 L1153.0,930.5 L1153.5,930.6 L1154.0,930.6 L1154.5,930.6 L1155.0,930.7 L1155.5,930.7 L1156.0,930.7 L1156.5,930.7 L1157.0,930.7 L1157.5,930.7 L1158.0,930.7 L1158.5,930.7 L1159.0,930.6 L1159.5,930.7 L1160.0,930.6 L1160.5,930.6 L1161.0,930.2 L1161.5,930.2 L1162.0,930.1 L1162.5,930.3 L1163.0,930.3 L1163.5,930.3 L1164.0,930.4 L1164.5,930.4 L1165.0,930.4 L1165.5,930.1 L1166.0,930.1 L1166.5,930.1 L1167.0,930.2 L1167.5,930.2 L1168.0,930.2 L1168.5,930.5 L1169.0,930.5 L1169.5,930.5 L1170.0,930.3 L1170.5,930.3 L1171.0,930.3 L1171.5,930.2 L1172.0,930.2 L1172.5,930.2 L1173.0,930.1 L1173.5,930.1 L1174.0,930.1 L1174.5,930.1 L1175.0,930.1 L1175.5,930.1 L1176.0,930.1 L1176.5,930.1 L1177.0,930.1 L1177.5,930.4 L1178.0,930.4 L1178.5,930.4 L1179.0,930.1 L1179.5,930.1 L1180.0,930.1 L1180.5,930.3 L1181.0,930.4 L1181.5,930.4 L1182.0,930.2 L1182.5,930.2 L1183.0,930.2 L1183.5,930.1 L1184.0,930.1 L1184.5,930.1 L1185.0,930.1 L1185.5,930.1 L1186.0,930.1 L1186.5,930.3 L1187.0,930.3 L1187.5,930.3 L1188.0,930.1 L1188.5,930.1 L1189.0,930.1 L1189.5,930.5 L1190.0,930.5 L1190.5,930.5 L1191.0,930.6 L1191.5,930.6 L1192.0,930.6 L1192.5,930.4 L1193.0,930.4 L1193.5,930.4 L1194.0,929.9 L1194.5,929.9 L1195.0,929.9 L1195.5,930.0 L1196.0,929.9 L1196.5,929.8 L1197.0,930.1 L1197.5,930.0 L1198.0,929.9 L1198.5,929.8 L1199.0,929.7 L1199.5,929.6 L1200.0,929.1 L1200.5,928.9 L1201.0,928.8 L1201.5,928.8 L1202.0,928.6 L1202.5,928.3 L1203.0,928.1 L1203.5,927.8 L1204.0,927.4 L1204.5,926.6 L1205.0,926.0 L1205.5,925.2 L1206.0,924.3 L1206.5,922.9 L1207.0,921.0 L1207.5,918.5 L1208.0,915.1 L1208.5,911.7 L1209.0,909.7 L1209.1,909.6 L1209.5,910.6 L1210.0,913.7 L1210.5,917.2 L1211.0,920.1 L1211.5,922.4 L1212.0,923.8 L1212.5,924.9 L1213.0,925.8 L1213.5,926.2 L1214.0,926.7 L1214.5,927.1 L1215.0,927.8 L1215.5,928.1 L1216.0,928.4 L1216.5,928.8 L1217.0,929.0 L1217.5,929.2 L1218.0,929.3 L1218.5,929.5 L1219.0,929.6 L1219.5,929.4 L1220.0,929.5 L1220.5,929.6 L1221.0,930.0 L1221.5,930.0 L1222.0,930.1 L1222.5,930.0 L1223.0,930.0 L1223.5,930.1 L1224.0,930.0 L1224.5,930.1 L1225.0,930.1 L1225.5,930.6 L1226.0,930.7 L1226.5,930.7 L1227.0,930.7 L1227.5,930.7 L1228.0,930.7 L1228.5,930.5 L1229.0,930.5 L1229.5,930.6 L1230.0,930.9 L1230.5,930.9 L1231.0,930.9 L1231.5,930.7 L1232.0,930.8 L1232.5,930.8 L1233.0,930.7 L1233.5,930.7 L1234.0,930.7 L1234.5,930.7 L1235.0,930.7 L1235.5,930.7 L1236.0,930.4 L1236.5,930.3 L1237.0,930.3 L1237.5,930.6 L1238.0,930.6 L1238.5,930.5 L1239.0,930.4 L1239.5,930.3 L1240.0,930.2 L1240.5,930.5 L1241.0,930.4 L1241.5,930.2 L1242.0,930.1 L1242.5,930.0 L1243.0,929.8 L1243.5,929.2 L1244.0,929.0 L1244.5,928.9 L1245.0,928.9 L1245.5,928.7 L1246.0,928.6 L1246.5,928.4 L1247.0,928.4 L1247.5,928.3 L1248.0,928.4 L1248.5,928.4 L1249.0,928.5 L1249.5,928.8 L1250.0,928.8 L1250.5,928.9 L1251.0,928.7 L1251.5,928.8 L1252.0,928.9 L1252.5,929.0 L1253.0,929.1 L1253.5,929.2 L1254.0,929.7 L1254.5,929.8 L1255.0,929.8 L1255.5,929.5 L1256.0,929.5 L1256.5,929.6 L1257.0,929.7 L1257.5,929.7 L1258.0,929.6 L1258.5,929.8 L1259.0,929.8 L1259.5,929.7 L1260.0,929.2 L1260.5,929.1 L1261.0,929.0 L1261.5,929.1 L1262.0,929.0 L1262.5,928.9 L1263.0,929.0 L1263.5,928.9 L1264.0,928.7 L1264.5,928.0 L1265.0,927.8 L1265.5,927.5 L1266.0,927.6 L1266.5,927.3 L1267.0,926.9 L1267.5,926.4 L1268.0,925.9 L1268.5,925.2 L1269.0,924.6 L1269.5,923.6 L1270.0,922.5 L1270.5,921.2 L1271.0,919.8 L1271.5,918.3 L1272.0,917.0 L1272.5,916.0 L1273.0,915.7 L1273.5,916.0 L1274.0,917.0 L1274.5,918.3 L1275.0,919.8 L1275.5,921.2 L1276.0,922.5 L1276.5,923.7 L1277.0,924.7 L1277.5,925.4 L1278.0,926.1 L1278.5,926.6 L1279.0,927.1 L1279.5,927.1 L1280.0,927.4 L1280.5,927.7 L1281.0,928.0 L1281.5,928.2 L1282.0,928.4 L1282.5,928.8 L1283.0,929.0 L1283.5,929.1 L1284.0,929.1 L1284.5,929.2 L1285.0,929.4 L1285.5,929.1 L1286.0,929.2 L1286.5,929.3 L1287.0,929.6 L1287.5,929.6 L1288.0,929.7 L1288.5,930.1 L1289.0,930.1 L1289.5,930.2 L1290.0,929.8 L1290.5,929.9 L1291.0,929.9 L1291.5,929.9 L1292.0,929.9 L1292.5,929.9 L1293.0,929.9 L1293.5,929.9 L1294.0,930.0 L1294.5,930.2 L1295.0,930.2 L1295.5,930.2 L1296.0,930.2 L1296.5,930.2 L1297.0,930.2 L1297.5,930.2 L1298.0,930.3 L1298.5,930.3 L1299.0,930.4 L1299.5,930.5 L1300.0,930.5 L1300.5,930.8 L1301.0,930.8 L1301.5,930.9 L1302.0,931.1 L1302.5,931.1 L1303.0,931.1 L1303.5,931.1 L1304.0,931.1 L1304.5,931.1 L1305.0,930.6 L1305.5,930.6 L1306.0,930.7 L1306.5,930.8 L1307.0,930.8 L1307.5,930.8 L1308.0,930.9 L1308.5,930.9 L1309.0,930.9 L1309.5,930.9 L1310.0,930.9 L1310.5,931.0 L1311.0,931.3 L1311.5,931.3 L1312.0,931.3 L1312.5,930.9 L1313.0,930.9 L1313.5,930.9 L1314.0,931.1 L1314.5,931.1 L1315.0,931.1 L1315.5,931.4 L1316.0,931.4 L1316.5,931.4 L1317.0,931.4 L1317.5,931.4 L1318.0,931.4 L1318.5,930.9 L1319.0,930.9 L1319.5,930.9 L1320.0,931.3 L1320.5,931.3 L1321.0,931.3 L1321.5,931.2 L1322.0,931.2 L1322.5,931.2 L1323.0,931.0 L1323.5,931.0 L1324.0,931.0 L1324.5,931.5 L1325.0,931.5 L1325.5,931.5 L1326.0,931.5 L1326.5,931.5 L1327.0,931.5 L1327.5,931.1 L1328.0,931.1 L1328.5,931.1 L1329.0,931.4 L1329.5,931.4 L1330.0,931.4 L1330.5,931.4 L1331.0,931.4 L1331.5,931.4 L1332.0,931.4 L1332.5,931.4 L1333.0,931.4 L1333.5,931.1 L1334.0,931.1 L1334.5,931.1 L1335.0,931.0 L1335.5,931.0 L1336.0,931.0 L1336.5,931.5 L1337.0,931.5 L1337.5,931.5 L1338.0,931.3" stroke="#000"/>
</g>
<g fill="#000">
<polygon points="147.0,893.3 149.8,901.9 158.9,901.9 151.5,907.3 154.3,915.9 147.0,910.6 139.7,915.9 142.5,907.3 135.1,901.9 144.2,901.9"/>
<path d="M238.0,854.5 L250.5,867.0 L238.0,879.5 L225.5,867.0Z"/>
<rect x="259.9" y="872.2" width="19.5" height="19.5"/>
<polygon points="268.2,896.1 271.0,904.7 280.1,904.7 272.7,910.1 275.5,918.7 268.2,913.4 260.9,918.7 263.7,910.1 256.3,904.7 265.4,904.7"/>
<path d="M444.7,886.6 L457.2,899.1 L444.7,911.6 L432.2,899.1Z"/>
<rect x="460.4" y="902.2" width="19.5" height="19.5"/>
<path d="M592.4,857.5 L604.9,870.0 L592.4,882.5 L579.9,870.0Z"/>
<path d="M601.0,888.8 L613.5,901.3 L601.0,913.8 L588.5,901.3Z"/>
<polygon points="643.1,890.9 645.9,899.5 655.0,899.5 647.6,904.9 650.4,913.5 643.1,908.2 635.8,913.5 638.6,904.9 631.2,899.5 640.3,899.5"/>
<rect x="642.0" y="865.6" width="19.5" height="19.5"/>
<path d="M684.1,744.6 L696.6,757.1 L684.1,769.6 L671.6,757.1Z"/>
<rect x="696.0" y="891.0" width="19.5" height="19.5"/>
<path d="M736.9,883.1 L749.4,895.6 L736.9,908.1 L724.4,895.6Z"/>
<rect x="874.2" y="904.6" width="19.5" height="19.5"/>
<path d="M905.0,867.4 L917.5,879.9 L905.0,892.4 L892.5,879.9Z"/>
<rect x="959.2" y="896.6" width="19.5" height="19.5"/>
<path d="M998.1,896.5 L1010.6,909.0 L998.1,921.5 L985.6,909.0Z"/>
<path d="M1040.7,880.4 L1053.2,892.9 L1040.7,905.4 L1028.2,892.9Z"/>
<rect x="1109.8" y="904.4" width="19.5" height="19.5"/>
<path d="M1150.4,895.4 L1162.9,907.9 L1150.4,920.4 L1137.9,907.9Z"/>
<path d="M1211.4,875.3 L1223.9,887.8 L1211.4,900.3 L1198.9,887.8Z"/>
<path d="M1278.8,887.3 L1291.3,899.8 L1278.8,912.3 L1266.3,899.8Z"/>
<path d="M235.4,604.0 L247.9,616.5 L235.4,629.0 L222.9,616.5Z"/>
<path d="M442.5,650.8 L455.0,663.3 L442.5,675.8 L430.0,663.3Z"/>
<path d="M592.9,612.7 L605.4,625.2 L592.9,637.7 L580.4,625.2Z"/>
<path d="M604.9,643.3 L617.4,655.8 L604.9,668.3 L592.4,655.8Z"/>
<rect x="639.9" y="660.0" width="19.5" height="19.5"/>
<path d="M681.6,494.1 L694.1,506.6 L681.6,519.1 L669.1,506.6Z"/>
<path d="M745.0,652.5 L757.5,665.0 L745.0,677.5 L732.5,665.0Z"/>
<path d="M909.7,626.7 L922.2,639.2 L909.7,651.7 L897.2,639.2Z"/>
<rect x="959.2" y="656.9" width="19.5" height="19.5"/>
<path d="M1001.0,655.1 L1013.5,667.6 L1001.0,680.1 L988.5,667.6Z"/>
<path d="M1046.9,636.9 L1059.4,649.4 L1046.9,661.9 L1034.4,649.4Z"/>
<path d="M1146.1,655.0 L1158.6,667.5 L1146.1,680.0 L1133.6,667.5Z"/>
<path d="M1213.2,635.0 L1225.7,647.5 L1213.2,660.0 L1200.7,647.5Z"/>
<path d="M1278.1,636.9 L1290.6,649.4 L1278.1,661.9 L1265.6,649.4Z"/>
<path d="M235.7,375.7 L248.2,388.2 L235.7,400.7 L223.2,388.2Z"/>
<path d="M444.7,421.5 L457.2,434.0 L444.7,446.5 L432.2,434.0Z"/>
<rect x="464.4" y="434.4" width="19.5" height="19.5"/>
<path d="M589.8,378.8 L602.3,391.3 L589.8,403.8 L577.3,391.3Z"/>
<path d="M600.0,414.4 L612.5,426.9 L600.0,439.4 L587.5,426.9Z"/>
<polygon points="645.9,429.0 648.7,437.6 657.8,437.6 650.4,443.0 653.2,451.6 645.9,446.3 638.6,451.6 641.4,443.0 634.0,437.6 643.1,437.6"/>
<rect x="643.8" y="402.1" width="19.5" height="19.5"/>
<path d="M674.9,352.4 L687.4,364.9 L674.9,377.4 L662.4,364.9Z"/>
<path d="M680.5,220.0 L693.0,232.5 L680.5,245.0 L668.0,232.5Z"/>
<rect x="697.8" y="432.1" width="19.5" height="19.5"/>
<path d="M742.0,422.6 L754.5,435.1 L742.0,447.6 L729.5,435.1Z"/>
<rect x="874.2" y="434.2" width="19.5" height="19.5"/>
<path d="M905.6,393.7 L918.1,406.2 L905.6,418.7 L893.1,406.2Z"/>
<rect x="959.2" y="437.9" width="19.5" height="19.5"/>
<path d="M999.9,429.7 L1012.4,442.2 L999.9,454.7 L987.4,442.2Z"/>
<path d="M1043.7,407.0 L1056.2,419.5 L1043.7,432.0 L1031.2,419.5Z"/>
<path d="M1147.7,432.3 L1160.2,444.8 L1147.7,457.3 L1135.2,444.8Z"/>
<path d="M1211.6,406.3 L1224.1,418.8 L1211.6,431.3 L1199.1,418.8Z"/>
<path d="M1276.0,410.0 L1288.5,422.5 L1276.0,435.0 L1263.5,422.5Z"/>
</g>
<g stroke="#000" stroke-width="6.2" stroke-linecap="round">
<line x1="184.0" y1="1019.6" x2="184.0" y2="1037.7"/><line x1="349.1" y1="1019.6" x2="349.1" y2="1037.7"/><line x1="514.2" y1="1019.6" x2="514.2" y2="1037.7"/><line x1="679.3" y1="1019.6" x2="679.3" y2="1037.7"/><line x1="844.4" y1="1019.6" x2="844.4" y2="1037.7"/><line x1="1009.5" y1="1019.6" x2="1009.5" y2="1037.7"/><line x1="1174.6" y1="1019.6" x2="1174.6" y2="1037.7"/><line x1="266.6" y1="1029.0" x2="266.6" y2="1037.7"/><line x1="431.7" y1="1029.0" x2="431.7" y2="1037.7"/><line x1="596.8" y1="1029.0" x2="596.8" y2="1037.7"/><line x1="761.9" y1="1029.0" x2="761.9" y2="1037.7"/><line x1="927.0" y1="1029.0" x2="927.0" y2="1037.7"/><line x1="1092.1" y1="1029.0" x2="1092.1" y2="1037.7"/><line x1="1257.2" y1="1029.0" x2="1257.2" y2="1037.7"/>
</g>
<g font-size="55" text-anchor="middle" fill="#000">
<text x="184.0" y="1102">10</text><text x="349.1" y="1102">20</text><text x="514.2" y="1102">30</text><text x="679.3" y="1102">40</text><text x="844.4" y="1102">50</text><text x="1009.5" y="1102">60</text><text x="1174.6" y="1102">70</text><text x="1339.7" y="1102">80</text>
</g>
<text x="679.5" y="1162" font-size="58" font-weight="bold" text-anchor="middle">2<tspan font-weight="normal">θ(</tspan><tspan dx="1">degree</tspan><tspan font-weight="normal">)</tspan></text>
<text transform="translate(64,553.5) rotate(-90)" font-size="59.5" font-weight="bold" text-anchor="middle">Intensity<tspan font-weight="normal">(</tspan>a.u.<tspan font-weight="normal">)</tspan></text>
<g font-size="53" font-weight="bold" fill="#000">
<text x="125.8" y="525.0" font-size="40" text-anchor="middle">(</text>
<text x="144.8" y="525.0" font-size="53.7" text-anchor="middle">c</text>
<text x="163.3" y="525.0" font-size="40" text-anchor="middle">)</text>
<text x="183.4" y="525.0" font-size="53.7">1TiH<tspan font-size="46" dy="16">2</tspan><tspan dy="-16">/1.20Al/1TiN</tspan></text>
<text x="125.5" y="751.2" font-size="40" text-anchor="middle">(</text>
<text x="147.3" y="751.2" font-size="53.7" text-anchor="middle">b</text>
<text x="169" y="751.2" font-size="40" text-anchor="middle">)</text>
<text x="188.7" y="751.2" font-size="53.7">1TiH<tspan font-size="46" dy="16">2</tspan><tspan dy="-16">/1.15Al/1TiN</tspan></text>
<text x="122.1" y="986.2" font-size="53.7" text-anchor="middle">(</text>
<text x="143.5" y="986.2" font-size="53.7" text-anchor="middle">a</text>
<text x="166" y="986.2" font-size="53.7" text-anchor="middle">)</text>
<text x="189.2" y="986.2" font-size="53.7">1TiH<tspan font-size="46" dy="16">2</tspan><tspan dy="-16">/1.10Al/1TiN</tspan></text>
</g>
<g fill="#000">
<path d="M1068.6,75.6 L1086.2,93.2 L1068.6,110.8 L1051.0,93.2Z"/>
<rect x="1054.8" y="161.4" width="27.0" height="27.0"/>
<polygon points="1066.2,231.3 1070.7,245.1 1085.2,245.1 1073.5,253.7 1078.0,267.5 1066.2,258.9 1054.4,267.5 1058.9,253.7 1047.2,245.1 1061.7,245.1"/>
</g>
<g font-size="53.5" font-weight="bold" fill="#000">
<text x="1100" y="110">Ti<tspan font-size="46" dy="16">2</tspan><tspan dy="-16">AlN</tspan></text>
<text x="1100" y="188.3">Ti<tspan font-size="46" dy="16">4</tspan><tspan dy="-16">AlN</tspan><tspan font-size="46" dy="16">3</tspan></text>
<text x="1100" y="268">Ti<tspan font-size="46" dy="16">3</tspan><tspan dy="-16">Al</tspan><tspan font-size="46" dy="16">2</tspan><tspan dy="-16">N</tspan><tspan font-size="46" dy="16">2</tspan></text>
</g>
</g>
</svg>
</body></html>
